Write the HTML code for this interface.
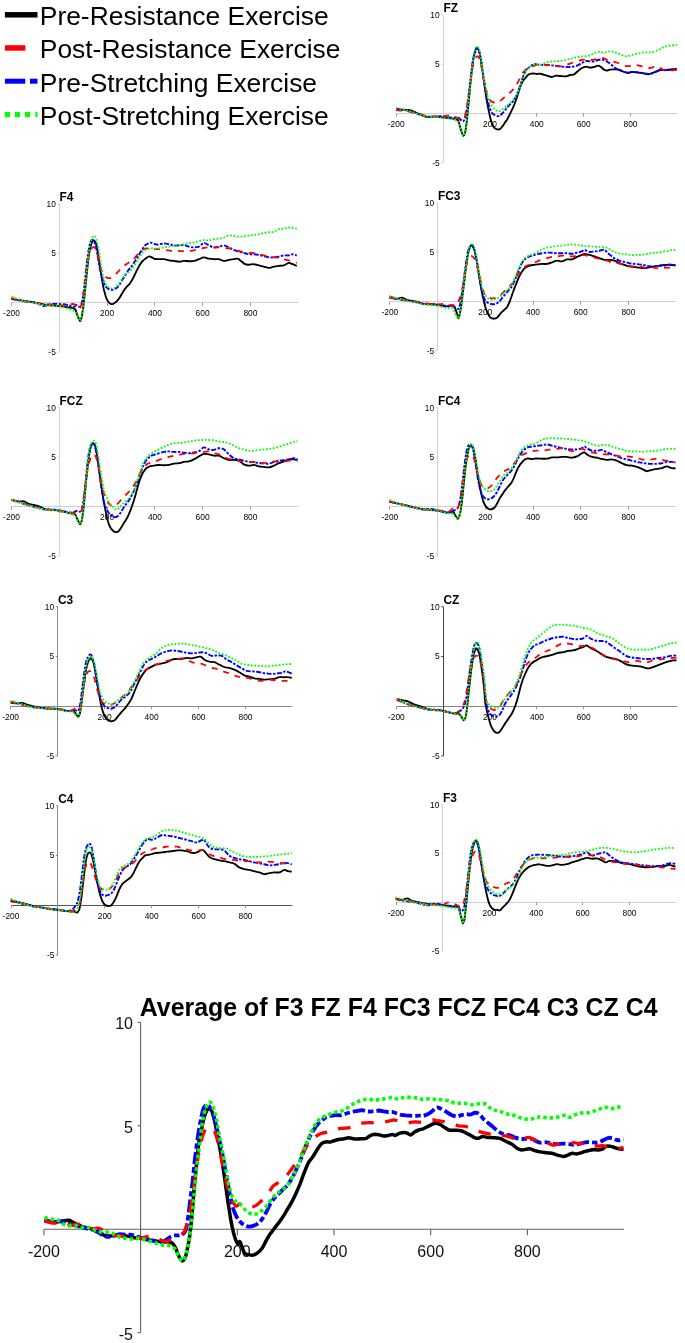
<!DOCTYPE html>
<html><head><meta charset="utf-8"><style>
html,body{margin:0;padding:0;background:#fff;}
body{width:685px;height:1343px;overflow:hidden;}
svg{display:block;will-change:transform;}
text{font-family:"Liberation Sans",sans-serif;fill:#000;}
.t7{font-size:8.4px;fill:#000;}
.t16{font-size:16px;fill:#111;}
.lb{font-size:11.9px;font-weight:bold;}
.leg{font-size:26.4px;}
.ttl{font-size:24.9px;font-weight:bold;}
</style></head><body>
<svg width="685" height="1343" viewBox="0 0 685 1343">
<rect width="685" height="1343" fill="#fff"/>
<rect x="4.9" y="12.05" width="32.6" height="5.5" fill="#000"/>
<text x="39.8" y="25.1" class="leg">Pre-Resistance Exercise</text>
<rect x="4.9" y="45.2" width="20.5" height="5.5" fill="#f00"/>
<text x="39.8" y="58.4" class="leg">Post-Resistance Exercise</text>
<rect x="4.9" y="78.7" width="20.4" height="5" fill="#00f"/><rect x="30" y="78.7" width="7.5" height="5" fill="#00f"/>
<text x="39.8" y="91.5" class="leg">Pre-Stretching Exercise</text>
<rect x="4.8" y="111.9" width="5.3" height="5.2" fill="#0f0"/><rect x="14.9" y="111.9" width="5.2" height="5.2" fill="#0f0"/><rect x="25" y="111.9" width="5.2" height="5.2" fill="#0f0"/><rect x="35.3" y="111.9" width="2.2" height="5.2" fill="#0f0"/>
<text x="39.8" y="124.6" class="leg">Post-Stretching Exercise</text>
<line x1="396.2" y1="113.5" x2="677.4" y2="113.5" stroke="#d0d0d0" stroke-width="1"/>
<line x1="443.5" y1="14.9" x2="443.5" y2="162.8" stroke="#d0d0d0" stroke-width="1"/>
<line x1="441.1" y1="14.9" x2="443.1" y2="14.9" stroke="#d0d0d0" stroke-width="1"/>
<text x="439.6" y="17.8" class="t7" text-anchor="end">10</text>
<line x1="441.1" y1="64.2" x2="443.1" y2="64.2" stroke="#d0d0d0" stroke-width="1"/>
<text x="439.6" y="67.1" class="t7" text-anchor="end">5</text>
<line x1="441.1" y1="162.8" x2="443.1" y2="162.8" stroke="#d0d0d0" stroke-width="1"/>
<text x="439.6" y="165.7" class="t7" text-anchor="end">-5</text>
<line x1="396.5" y1="113.5" x2="396.5" y2="116.5" stroke="#999" stroke-width="1"/>
<text x="396.2" y="127.1" class="t7" text-anchor="middle">-200</text>
<line x1="489.5" y1="113.5" x2="489.5" y2="116.5" stroke="#999" stroke-width="1"/>
<text x="490.0" y="127.1" class="t7" text-anchor="middle">200</text>
<line x1="536.5" y1="113.5" x2="536.5" y2="116.5" stroke="#999" stroke-width="1"/>
<text x="536.8" y="127.1" class="t7" text-anchor="middle">400</text>
<line x1="583.5" y1="113.5" x2="583.5" y2="116.5" stroke="#999" stroke-width="1"/>
<text x="583.7" y="127.1" class="t7" text-anchor="middle">600</text>
<line x1="630.5" y1="113.5" x2="630.5" y2="116.5" stroke="#999" stroke-width="1"/>
<text x="630.5" y="127.1" class="t7" text-anchor="middle">800</text>
<text x="443.4" y="12.0" class="lb">FZ</text>
<path d="M396.0 109.6C398.2 109.7 405.5 109.4 409.0 110.0C412.5 110.6 414.0 111.8 417.0 113.0C420.0 114.2 424.0 116.4 427.0 117.0C430.0 117.6 432.3 116.5 435.0 116.6C437.7 116.7 440.3 117.1 443.0 117.4C445.7 117.7 448.6 118.0 451.0 118.4C453.4 118.8 456.2 118.8 457.6 120.0C459.1 121.1 458.9 123.3 459.6 125.2C460.3 127.2 460.9 130.0 461.6 131.8C462.2 133.5 462.9 136.0 463.5 135.7C464.2 135.5 464.9 134.0 465.5 130.5C466.2 127.0 466.8 120.8 467.5 114.7C468.1 108.6 468.8 100.5 469.5 93.7C470.1 86.9 470.8 79.9 471.4 74.0C472.1 68.1 472.7 62.2 473.4 58.2C474.1 54.3 474.8 52.1 475.4 50.3C476.0 48.6 476.5 47.8 477.1 47.7C477.6 47.6 478.1 47.9 478.6 49.7C479.2 51.4 480.0 54.6 480.6 58.2C481.3 61.8 481.9 66.8 482.6 71.4C483.2 76.0 483.9 81.2 484.6 85.8C485.2 90.4 485.9 95.0 486.5 98.9C487.2 102.9 487.8 106.2 488.5 109.5C489.2 112.7 489.8 116.1 490.5 118.7C491.1 121.2 491.8 123.0 492.4 124.6C493.1 126.1 493.6 127.0 494.4 127.9C495.2 128.7 496.2 129.2 497.0 129.4C497.9 129.6 498.8 129.6 499.7 129.2C500.5 128.7 501.4 127.6 502.3 126.5C503.2 125.4 504.1 123.9 504.9 122.6C505.8 121.3 506.7 120.2 507.6 118.7C508.4 117.1 509.3 115.2 510.2 113.4C511.1 111.6 511.9 110.1 512.8 108.1C513.7 106.2 514.6 104.0 515.4 101.6C516.3 99.2 517.2 96.3 518.1 93.7C518.9 91.1 519.8 88.0 520.7 85.8C521.6 83.6 522.4 82.0 523.3 80.6C524.2 79.1 525.1 78.3 525.9 77.3C526.8 76.3 527.7 75.2 528.6 74.6C529.5 74.1 530.3 73.9 531.2 73.7C532.1 73.5 533.0 73.3 533.8 73.3C534.7 73.4 535.6 73.9 536.5 74.0C537.3 74.1 538.2 73.7 539.1 73.7C540.0 73.7 540.2 73.6 541.7 74.0C543.2 74.4 546.3 75.5 548.0 76.0C549.7 76.5 550.7 77.1 552.0 77.0C553.3 76.9 554.7 75.8 556.0 75.6C557.3 75.4 558.3 75.9 560.0 76.0C561.7 76.1 564.3 76.6 566.0 76.4C567.7 76.2 568.7 75.3 570.0 75.0C571.3 74.7 572.7 75.1 574.0 74.4C575.3 73.7 576.7 72.1 578.0 71.0C579.3 69.9 580.7 68.7 582.0 68.0C583.3 67.3 584.7 66.7 586.0 66.6C587.3 66.5 588.7 67.5 590.0 67.6C591.3 67.7 592.7 67.3 594.0 67.0C595.3 66.7 596.8 65.6 598.0 65.6C599.2 65.6 600.0 66.3 601.0 67.0C602.0 67.7 603.0 69.0 604.0 69.6C605.0 70.2 606.0 70.6 607.0 70.6C608.0 70.6 608.5 69.8 610.0 69.6C611.5 69.4 614.3 69.3 616.0 69.4C617.7 69.5 618.7 69.6 620.0 70.0C621.3 70.4 622.7 71.5 624.0 72.0C625.3 72.5 626.7 73.0 628.0 73.0C629.3 73.0 630.7 72.1 632.0 72.0C633.3 71.9 634.3 72.2 636.0 72.4C637.7 72.6 640.0 72.7 642.0 73.0C644.0 73.3 646.3 74.4 648.0 74.4C649.7 74.4 650.7 73.5 652.0 73.0C653.3 72.5 654.7 72.1 656.0 71.6C657.3 71.1 658.2 70.3 660.0 70.0C661.8 69.7 664.2 70.2 667.0 70.0C669.8 69.8 675.3 69.2 677.0 69.0" fill="none" stroke="#000" stroke-width="1.85"/>
<path d="M396.0 108.6C397.2 108.8 400.8 109.2 403.0 109.6C405.2 110.0 406.7 110.3 409.0 111.0C411.3 111.7 414.0 112.7 417.0 113.6C420.0 114.5 424.0 116.1 427.0 116.6C430.0 117.1 432.3 116.4 435.0 116.4C437.7 116.4 440.3 116.2 443.0 116.4C445.7 116.6 448.6 117.4 451.0 117.6C453.4 117.8 456.1 117.1 457.6 117.3C459.2 117.6 459.4 118.7 460.3 119.3C461.1 120.0 462.1 121.4 462.9 121.3C463.6 121.2 464.2 120.6 464.9 118.7C465.5 116.7 466.2 113.6 466.8 109.5C467.5 105.3 468.1 99.2 468.8 93.7C469.5 88.2 470.1 81.9 470.8 76.6C471.4 71.4 472.1 66.1 472.7 62.2C473.4 58.2 474.1 55.2 474.7 53.0C475.4 50.8 476.1 49.6 476.7 49.0C477.3 48.5 477.8 48.8 478.4 49.7C478.9 50.6 479.4 51.5 480.0 54.3C480.6 57.0 481.3 61.7 481.9 66.1C482.6 70.5 483.2 76.2 483.9 80.6C484.6 84.9 485.2 88.9 485.9 92.4C486.5 95.9 487.2 98.9 487.8 101.6C488.5 104.2 489.1 106.2 489.8 108.1C490.6 110.1 491.5 112.2 492.4 113.4C493.4 114.6 494.6 114.9 495.7 115.4C496.8 115.8 497.9 116.4 499.0 116.0C500.1 115.7 501.2 114.5 502.3 113.4C503.4 112.3 504.5 110.8 505.6 109.5C506.7 108.1 507.7 106.8 508.9 105.5C510.1 104.2 511.6 103.1 512.8 101.6C514.0 100.0 515.1 98.3 516.1 96.3C517.1 94.4 517.8 92.2 518.7 89.8C519.6 87.3 520.5 84.5 521.4 81.9C522.2 79.2 523.1 76.1 524.0 74.0C524.9 71.9 525.6 70.6 526.6 69.4C527.6 68.2 528.7 67.6 529.9 66.8C531.1 65.9 532.3 64.5 533.8 64.1C535.4 63.8 536.7 64.6 539.1 64.8C541.4 64.9 545.5 64.9 548.0 65.0C550.5 65.1 552.0 65.4 554.0 65.6C556.0 65.8 558.0 66.2 560.0 66.4C562.0 66.6 564.3 66.9 566.0 67.0C567.7 67.1 568.3 67.2 570.0 67.0C571.7 66.8 574.0 66.7 576.0 66.0C578.0 65.3 580.3 63.8 582.0 63.0C583.7 62.2 584.7 61.3 586.0 61.0C587.3 60.7 588.7 61.3 590.0 61.4C591.3 61.5 592.7 61.8 594.0 61.6C595.3 61.4 596.7 60.3 598.0 60.0C599.3 59.7 600.7 59.4 602.0 59.6C603.3 59.8 604.7 60.3 606.0 61.0C607.3 61.7 608.7 62.6 610.0 63.6C611.3 64.6 612.7 66.0 614.0 67.0C615.3 68.0 616.7 68.9 618.0 69.6C619.3 70.3 620.7 70.9 622.0 71.4C623.3 71.9 624.7 72.3 626.0 72.4C627.3 72.5 628.7 72.1 630.0 72.0C631.3 71.9 632.7 71.9 634.0 72.0C635.3 72.1 636.7 72.2 638.0 72.4C639.3 72.6 640.7 72.8 642.0 73.0C643.3 73.2 644.7 73.4 646.0 73.6C647.3 73.8 648.7 74.2 650.0 74.0C651.3 73.8 652.7 73.1 654.0 72.6C655.3 72.1 656.7 71.4 658.0 71.0C659.3 70.6 660.5 70.2 662.0 70.0C663.5 69.8 664.5 70.2 667.0 70.0C669.5 69.8 675.3 69.2 677.0 69.0" fill="none" stroke="#00f" stroke-width="1.9" stroke-dasharray="5 1.5 2.5 1.5"/>
<path d="M396.0 110.0C397.5 110.2 402.2 110.6 405.0 111.0C407.8 111.4 410.3 111.9 413.0 112.4C415.7 112.9 418.7 113.3 421.0 114.0C423.3 114.7 424.7 116.0 427.0 116.4C429.3 116.8 432.3 116.4 435.0 116.4C437.7 116.4 441.0 116.5 443.0 116.4C445.0 116.3 445.8 115.7 447.0 115.6C448.2 115.5 449.0 115.3 450.0 115.6C451.0 115.9 451.7 117.0 453.0 117.4C454.3 117.8 456.4 117.6 457.6 118.0C458.8 118.4 459.4 119.9 460.3 120.0C461.1 120.1 462.1 119.3 462.9 118.7C463.6 118.0 464.2 118.0 464.9 116.0C465.5 114.1 466.2 110.6 466.8 106.8C467.5 103.1 468.1 98.1 468.8 93.7C469.5 89.3 470.1 84.9 470.8 80.6C471.4 76.2 472.1 70.9 472.7 67.4C473.4 63.9 474.0 61.4 474.7 59.5C475.4 57.7 476.3 56.4 477.1 56.2C477.8 56.1 478.6 57.2 479.3 58.9C480.0 60.5 480.6 63.1 481.3 66.1C481.9 69.1 482.6 73.3 483.2 76.6C483.9 79.9 484.6 83.0 485.2 85.8C485.9 88.7 486.5 91.5 487.2 93.7C487.8 95.9 488.4 97.6 489.2 98.9C489.9 100.3 490.8 100.9 491.8 101.6C492.8 102.2 494.0 102.8 495.1 102.9C496.2 103.0 497.3 102.8 498.4 102.2C499.5 101.7 500.5 100.5 501.6 99.6C502.7 98.7 503.7 98.0 504.9 97.0C506.1 96.0 507.6 94.9 508.9 93.7C510.2 92.5 511.6 91.1 512.8 89.8C514.0 88.4 515.0 87.6 516.1 85.8C517.2 84.1 518.4 81.2 519.4 79.2C520.4 77.3 521.1 75.4 522.0 74.0C522.9 72.6 523.6 71.6 524.6 70.7C525.6 69.8 526.8 69.4 527.9 68.7C529.0 68.1 530.0 67.3 531.2 66.8C532.4 66.2 533.8 65.8 535.1 65.4C536.5 65.1 536.9 64.9 539.1 64.8C541.2 64.7 545.5 64.9 548.0 65.0C550.5 65.1 552.0 65.4 554.0 65.6C556.0 65.8 558.3 66.4 560.0 66.4C561.7 66.4 562.3 66.1 564.0 65.6C565.7 65.1 568.0 64.3 570.0 63.6C572.0 62.9 574.0 62.2 576.0 61.6C578.0 61.0 580.0 60.4 582.0 60.0C584.0 59.6 586.3 59.0 588.0 59.0C589.7 59.0 590.7 60.0 592.0 60.0C593.3 60.0 594.7 59.4 596.0 59.0C597.3 58.6 598.7 57.7 600.0 57.6C601.3 57.5 602.7 57.9 604.0 58.4C605.3 58.9 606.7 59.9 608.0 60.4C609.3 60.9 610.3 61.2 612.0 61.6C613.7 62.0 616.0 62.3 618.0 63.0C620.0 63.7 622.0 65.1 624.0 65.6C626.0 66.1 628.0 66.1 630.0 66.0C632.0 65.9 634.0 64.9 636.0 65.0C638.0 65.1 640.2 66.0 642.0 66.4C643.8 66.8 645.7 67.1 647.0 67.4C648.3 67.7 648.8 68.1 650.0 68.0C651.2 67.9 652.7 67.2 654.0 67.0C655.3 66.8 656.7 66.7 658.0 67.0C659.3 67.3 660.5 68.3 662.0 69.0C663.5 69.7 664.5 70.9 667.0 71.0C669.5 71.1 675.3 69.8 677.0 69.6" fill="none" stroke="#f00" stroke-width="1.8" stroke-dasharray="6 6"/>
<path d="M396.0 108.0C397.2 108.3 400.8 109.1 403.0 109.6C405.2 110.1 406.7 110.3 409.0 111.0C411.3 111.7 414.0 112.7 417.0 113.6C420.0 114.5 424.0 115.8 427.0 116.4C430.0 117.0 432.3 116.7 435.0 117.0C437.7 117.3 440.3 117.7 443.0 118.0C445.7 118.3 448.6 118.3 451.0 118.8C453.4 119.3 456.2 120.2 457.6 121.3C459.1 122.4 458.9 123.5 459.6 125.2C460.3 127.0 460.9 130.0 461.6 131.8C462.2 133.5 462.9 136.0 463.5 135.7C464.2 135.5 464.9 134.2 465.5 130.5C466.2 126.8 466.8 119.8 467.5 113.4C468.1 107.1 468.8 99.2 469.5 92.4C470.1 85.6 470.8 78.6 471.4 72.7C472.1 66.8 472.7 61.0 473.4 56.9C474.1 52.9 474.8 50.1 475.4 48.4C476.0 46.6 476.5 46.3 477.1 46.4C477.7 46.5 478.3 47.1 478.9 49.0C479.5 51.0 480.2 54.5 480.9 58.2C481.5 61.9 482.2 67.2 482.9 71.4C483.5 75.5 484.2 79.7 484.8 83.2C485.5 86.7 486.1 89.8 486.8 92.4C487.5 95.0 488.0 97.0 488.8 98.9C489.5 100.9 490.2 102.6 491.1 104.2C492.1 105.8 493.2 107.6 494.4 108.8C495.6 110.0 497.0 111.3 498.4 111.4C499.7 111.5 501.0 110.3 502.3 109.5C503.6 108.6 504.9 107.3 506.2 106.2C507.6 105.1 508.9 104.1 510.2 102.9C511.5 101.7 512.9 100.5 514.1 98.9C515.3 97.4 516.4 95.7 517.4 93.7C518.4 91.7 519.2 89.5 520.0 87.1C520.9 84.7 521.7 81.9 522.7 79.2C523.6 76.6 524.9 73.3 525.9 71.4C527.0 69.4 527.9 68.5 529.2 67.4C530.5 66.3 532.2 65.2 533.8 64.8C535.5 64.4 536.7 65.3 539.1 64.8C541.4 64.3 545.5 62.6 548.0 62.0C550.5 61.4 552.0 61.6 554.0 61.4C556.0 61.2 558.0 61.2 560.0 61.0C562.0 60.8 564.3 60.3 566.0 60.0C567.7 59.7 568.3 59.4 570.0 59.0C571.7 58.6 574.0 57.8 576.0 57.4C578.0 57.0 580.0 56.6 582.0 56.4C584.0 56.2 586.3 56.3 588.0 56.0C589.7 55.7 590.7 55.0 592.0 54.4C593.3 53.8 594.7 52.8 596.0 52.4C597.3 52.0 598.7 52.0 600.0 52.0C601.3 52.0 602.3 52.7 604.0 52.6C605.7 52.5 608.3 51.5 610.0 51.4C611.7 51.3 612.7 51.6 614.0 52.0C615.3 52.4 616.7 53.1 618.0 53.6C619.3 54.1 620.5 54.5 622.0 55.0C623.5 55.5 625.3 56.4 627.0 56.4C628.7 56.4 630.2 55.5 632.0 55.0C633.8 54.5 636.0 54.0 638.0 53.6C640.0 53.2 642.0 52.6 644.0 52.4C646.0 52.2 648.0 52.6 650.0 52.4C652.0 52.2 654.0 51.7 656.0 51.0C658.0 50.3 660.2 48.8 662.0 48.0C663.8 47.2 664.5 46.5 667.0 46.0C669.5 45.5 675.3 45.2 677.0 45.0" fill="none" stroke="#0f0" stroke-width="1.8" stroke-dasharray="1.8 1.7"/>
<line x1="11.5" y1="302.5" x2="298.2" y2="302.5" stroke="#d0d0d0" stroke-width="1"/>
<line x1="59.5" y1="204.0" x2="59.5" y2="352.2" stroke="#d0d0d0" stroke-width="1"/>
<line x1="57.3" y1="204.0" x2="59.3" y2="204.0" stroke="#d0d0d0" stroke-width="1"/>
<text x="55.8" y="206.9" class="t7" text-anchor="end">10</text>
<line x1="57.3" y1="253.4" x2="59.3" y2="253.4" stroke="#d0d0d0" stroke-width="1"/>
<text x="55.8" y="256.3" class="t7" text-anchor="end">5</text>
<line x1="57.3" y1="352.2" x2="59.3" y2="352.2" stroke="#d0d0d0" stroke-width="1"/>
<text x="55.8" y="355.1" class="t7" text-anchor="end">-5</text>
<line x1="11.5" y1="302.8" x2="11.5" y2="305.8" stroke="#999" stroke-width="1"/>
<text x="11.5" y="316.4" class="t7" text-anchor="middle">-200</text>
<line x1="107.5" y1="302.8" x2="107.5" y2="305.8" stroke="#999" stroke-width="1"/>
<text x="107.1" y="316.4" class="t7" text-anchor="middle">200</text>
<line x1="154.5" y1="302.8" x2="154.5" y2="305.8" stroke="#999" stroke-width="1"/>
<text x="154.9" y="316.4" class="t7" text-anchor="middle">400</text>
<line x1="202.5" y1="302.8" x2="202.5" y2="305.8" stroke="#999" stroke-width="1"/>
<text x="202.6" y="316.4" class="t7" text-anchor="middle">600</text>
<line x1="250.5" y1="302.8" x2="250.5" y2="305.8" stroke="#999" stroke-width="1"/>
<text x="250.4" y="316.4" class="t7" text-anchor="middle">800</text>
<text x="59.6" y="201.1" class="lb">F4</text>
<path d="M11.5 299.1C13.2 299.3 17.7 299.8 21.5 300.4C25.2 300.9 29.8 301.6 34.0 302.4C38.1 303.1 42.3 304.2 46.4 304.9C50.6 305.5 55.2 305.7 58.9 306.1C62.7 306.5 66.2 306.9 68.9 307.4C71.6 307.8 73.6 307.8 74.9 309.0C76.3 310.1 76.3 312.6 76.9 314.2C77.6 315.9 78.3 317.7 78.9 318.8C79.5 319.9 79.9 321.6 80.5 320.8C81.0 320.0 81.6 317.7 82.2 314.2C82.8 310.7 83.5 305.5 84.1 299.8C84.8 294.1 85.5 286.4 86.1 280.1C86.8 273.7 87.4 266.9 88.1 261.7C88.7 256.4 89.4 251.8 90.1 248.5C90.7 245.2 91.4 243.3 92.0 242.0C92.7 240.6 93.3 240.4 94.0 240.6C94.6 240.9 95.3 241.3 96.0 243.3C96.6 245.2 97.3 248.8 97.9 252.5C98.6 256.2 99.2 261.2 99.9 265.6C100.6 270.0 101.2 274.8 101.9 278.8C102.5 282.7 103.2 286.3 103.8 289.3C104.5 292.2 105.2 294.5 105.8 296.5C106.5 298.5 107.0 299.9 107.8 301.1C108.6 302.3 109.5 303.2 110.4 303.7C111.3 304.2 112.1 304.3 113.0 304.0C114.0 303.6 115.2 302.8 116.3 301.7C117.4 300.7 118.5 299.4 119.6 297.8C120.7 296.2 121.8 293.6 122.9 291.9C124.0 290.1 125.1 288.6 126.2 287.3C127.3 286.0 128.4 285.4 129.5 284.0C130.6 282.6 131.7 280.7 132.8 278.8C133.8 276.8 134.9 274.4 136.0 272.2C137.1 270.0 138.2 267.5 139.3 265.6C140.4 263.8 141.5 262.2 142.6 261.0C143.7 259.8 144.8 259.2 145.9 258.4C147.0 257.6 148.1 256.5 149.2 256.4C150.3 256.3 151.4 257.3 152.5 257.7C153.6 258.2 153.8 258.8 155.7 259.0C157.7 259.3 161.7 258.9 163.9 259.2C166.1 259.4 167.3 260.1 168.9 260.4C170.6 260.7 172.3 260.7 173.9 260.9C175.6 261.1 177.3 261.7 178.9 261.7C180.6 261.7 182.3 261.0 183.9 260.9C185.6 260.8 187.2 261.2 188.9 261.2C190.6 261.2 192.2 261.3 193.9 260.9C195.6 260.6 197.2 259.8 198.9 259.2C200.6 258.6 202.2 257.5 203.9 257.4C205.6 257.3 207.2 258.4 208.9 258.7C210.5 259.0 212.2 259.1 213.9 259.2C215.5 259.3 217.2 258.9 218.9 259.2C220.5 259.5 222.2 260.8 223.9 260.9C225.5 261.0 227.2 260.2 228.9 259.9C230.5 259.6 232.4 259.4 233.8 259.2C235.3 259.0 236.3 258.3 237.6 258.7C238.8 259.0 240.1 260.3 241.3 261.2C242.6 262.1 243.8 263.6 245.1 264.2C246.3 264.8 247.4 264.7 248.8 264.7C250.3 264.7 252.2 264.0 253.8 264.2C255.5 264.3 257.1 265.0 258.8 265.4C260.5 265.8 262.1 266.2 263.8 266.7C265.5 267.1 267.1 267.9 268.8 267.9C270.5 267.9 272.1 267.0 273.8 266.7C275.5 266.3 277.1 266.1 278.8 265.9C280.4 265.7 282.1 265.9 283.8 265.4C285.4 264.9 287.3 263.1 288.8 262.9C290.2 262.7 291.2 263.7 292.5 264.2C293.8 264.7 296.0 265.6 296.8 265.9" fill="none" stroke="#000" stroke-width="1.85"/>
<path d="M11.5 298.4C13.2 298.8 17.7 300.2 21.5 300.9C25.2 301.5 30.2 301.5 34.0 302.4C37.7 303.2 41.0 305.6 43.9 305.9C46.9 306.1 48.5 304.4 51.4 304.1C54.4 303.8 58.5 303.9 61.4 304.1C64.3 304.3 66.9 304.9 68.9 305.4C70.9 305.8 72.4 307.1 73.6 307.0C74.9 306.9 75.5 305.1 76.3 305.0C77.0 304.9 77.6 306.1 78.2 306.3C78.9 306.6 79.5 307.2 80.2 306.3C80.9 305.5 81.5 304.2 82.2 301.1C82.8 298.0 83.5 293.2 84.1 287.9C84.8 282.7 85.5 275.2 86.1 269.6C86.8 263.9 87.4 258.2 88.1 253.8C88.7 249.4 89.4 245.6 90.1 243.3C90.7 241.0 91.2 240.5 91.8 240.0C92.3 239.5 92.7 239.6 93.3 240.4C93.9 241.2 94.6 242.4 95.3 244.6C96.0 246.8 96.6 250.3 97.3 253.8C97.9 257.3 98.6 262.1 99.2 265.6C99.9 269.1 100.6 272.2 101.2 274.8C101.9 277.4 102.4 279.4 103.2 281.4C104.0 283.4 104.8 285.3 105.8 286.6C106.8 287.9 108.0 288.7 109.1 289.3C110.2 289.8 111.3 290.0 112.4 289.9C113.5 289.8 114.6 289.4 115.7 288.6C116.8 287.8 117.9 286.7 119.0 285.3C120.1 283.9 121.1 281.8 122.2 280.1C123.3 278.3 124.4 276.6 125.5 274.8C126.6 273.1 127.7 271.1 128.8 269.6C129.9 268.0 131.0 267.1 132.1 265.6C133.2 264.1 134.3 262.1 135.4 260.4C136.5 258.6 137.6 256.9 138.7 255.1C139.8 253.4 140.9 251.5 141.9 249.8C143.0 248.2 144.1 246.3 145.2 245.2C146.3 244.2 147.5 243.7 148.5 243.3C149.5 242.8 150.2 242.5 151.1 242.6C152.1 242.7 153.3 243.6 154.4 243.9C155.5 244.3 156.1 244.7 157.7 244.6C159.3 244.5 162.1 243.5 163.9 243.4C165.8 243.4 167.3 243.9 168.9 244.2C170.6 244.5 172.3 245.2 173.9 245.4C175.6 245.7 177.3 245.5 178.9 245.4C180.6 245.4 182.3 244.7 183.9 244.9C185.6 245.2 187.2 246.3 188.9 246.7C190.6 247.1 192.2 247.4 193.9 247.4C195.6 247.4 197.2 247.4 198.9 246.7C200.6 245.9 202.2 243.2 203.9 242.9C205.6 242.7 207.2 244.7 208.9 245.4C210.5 246.2 212.2 247.2 213.9 247.4C215.5 247.7 217.2 247.0 218.9 246.7C220.5 246.4 222.2 245.3 223.9 245.4C225.5 245.6 227.2 246.7 228.9 247.4C230.5 248.2 232.2 249.2 233.8 249.9C235.5 250.6 237.2 251.2 238.8 251.7C240.5 252.2 242.2 252.5 243.8 252.9C245.5 253.4 247.2 254.0 248.8 254.2C250.5 254.4 252.2 254.1 253.8 254.2C255.5 254.3 257.1 254.6 258.8 254.9C260.5 255.3 262.1 255.8 263.8 256.2C265.5 256.6 267.1 257.0 268.8 257.2C270.5 257.4 272.1 257.5 273.8 257.4C275.5 257.3 277.1 257.0 278.8 256.7C280.4 256.3 282.1 255.6 283.8 255.4C285.4 255.2 287.3 255.6 288.8 255.4C290.2 255.2 291.2 254.2 292.5 254.2C293.8 254.2 296.0 255.2 296.8 255.4" fill="none" stroke="#00f" stroke-width="1.9" stroke-dasharray="5 1.5 2.5 1.5"/>
<path d="M11.5 297.9C13.2 298.4 17.7 300.0 21.5 300.9C25.2 301.7 29.8 302.3 34.0 302.9C38.1 303.4 42.3 303.7 46.4 304.1C50.6 304.5 55.6 305.2 58.9 305.4C62.3 305.5 64.3 305.1 66.4 304.9C68.5 304.7 70.0 304.2 71.4 304.1C72.8 304.0 74.0 303.8 74.9 304.4C75.9 305.0 76.3 306.9 76.9 307.7C77.6 308.4 78.2 309.2 78.9 309.0C79.5 308.8 80.2 308.1 80.9 306.3C81.5 304.6 82.2 302.4 82.8 298.5C83.5 294.5 84.1 287.9 84.8 282.7C85.5 277.4 86.1 271.5 86.8 266.9C87.4 262.3 88.1 257.9 88.7 255.1C89.4 252.3 90.0 251.2 90.7 249.8C91.4 248.5 92.3 247.4 93.1 247.2C93.8 247.0 94.6 247.4 95.3 248.5C96.0 249.6 96.6 251.6 97.3 253.8C97.9 256.0 98.6 259.0 99.2 261.7C99.9 264.3 100.5 267.4 101.2 269.6C102.0 271.7 103.0 273.5 103.8 274.8C104.7 276.1 105.5 276.9 106.5 277.4C107.5 278.0 108.7 278.3 109.8 278.1C110.9 277.9 111.9 276.9 113.0 276.1C114.1 275.4 115.2 274.5 116.3 273.5C117.4 272.5 118.5 271.3 119.6 270.2C120.7 269.1 121.8 267.9 122.9 266.9C124.0 265.9 125.1 265.1 126.2 264.3C127.3 263.5 128.4 263.0 129.5 262.3C130.6 261.7 131.7 261.3 132.8 260.4C133.8 259.4 134.9 257.7 136.0 256.4C137.1 255.1 138.2 253.6 139.3 252.5C140.4 251.4 141.5 250.5 142.6 249.8C143.7 249.2 144.7 248.8 145.9 248.5C147.1 248.3 148.5 248.4 149.8 248.5C151.1 248.6 152.5 249.1 153.8 249.2C155.1 249.3 156.0 249.1 157.7 249.2C159.4 249.3 162.1 249.7 163.9 249.9C165.8 250.1 167.3 250.3 168.9 250.4C170.6 250.6 172.3 250.9 173.9 250.9C175.6 251.0 177.3 250.9 178.9 250.9C180.6 251.0 182.3 251.2 183.9 251.2C185.6 251.2 187.2 251.1 188.9 250.9C190.6 250.8 192.2 250.7 193.9 250.4C195.6 250.1 197.2 249.6 198.9 249.2C200.6 248.8 202.2 248.3 203.9 247.9C205.6 247.6 207.2 247.3 208.9 247.2C210.5 247.1 212.2 247.4 213.9 247.4C215.5 247.5 217.2 247.4 218.9 247.4C220.5 247.5 222.2 247.8 223.9 247.9C225.5 248.1 227.2 248.2 228.9 248.4C230.5 248.6 232.2 248.8 233.8 249.2C235.5 249.6 237.2 250.4 238.8 250.9C240.5 251.5 242.2 252.1 243.8 252.4C245.5 252.8 247.2 252.9 248.8 252.9C250.5 253.0 252.2 252.7 253.8 252.9C255.5 253.1 257.1 253.8 258.8 254.2C260.5 254.6 262.1 255.0 263.8 255.4C265.5 255.8 267.1 256.4 268.8 256.7C270.5 257.0 272.1 257.0 273.8 257.2C275.5 257.4 277.1 257.6 278.8 257.9C280.4 258.3 282.1 258.8 283.8 259.2C285.4 259.6 287.1 260.0 288.8 260.4C290.4 260.8 292.4 261.3 293.8 261.7C295.1 262.1 296.3 262.7 296.8 262.9" fill="none" stroke="#f00" stroke-width="1.8" stroke-dasharray="6 6"/>
<path d="M11.5 296.6C13.2 297.2 17.7 299.3 21.5 300.4C25.2 301.4 29.8 302.0 34.0 302.9C38.1 303.7 42.3 304.9 46.4 305.4C50.6 305.9 55.2 305.2 58.9 305.9C62.7 306.5 66.2 308.1 68.9 309.1C71.6 310.1 73.6 310.5 74.9 311.6C76.3 312.7 76.3 314.2 76.9 315.5C77.6 316.9 78.3 318.6 78.9 319.5C79.5 320.4 79.9 321.7 80.5 320.8C81.0 319.9 81.6 317.7 82.2 314.2C82.8 310.7 83.5 305.7 84.1 299.8C84.8 293.9 85.5 285.5 86.1 278.8C86.8 272.0 87.4 264.7 88.1 259.0C88.7 253.4 89.4 248.1 90.1 244.6C90.7 241.1 91.4 239.5 92.0 238.0C92.7 236.6 93.3 235.8 94.0 235.8C94.6 235.8 95.3 236.3 96.0 238.0C96.6 239.7 97.3 242.6 97.9 245.9C98.6 249.2 99.2 253.8 99.9 257.7C100.6 261.7 101.2 266.1 101.9 269.6C102.5 273.1 103.1 276.1 103.8 278.8C104.6 281.4 105.5 283.8 106.5 285.3C107.5 286.9 108.7 287.4 109.8 287.9C110.9 288.5 111.9 288.8 113.0 288.6C114.1 288.4 115.2 287.6 116.3 286.6C117.4 285.6 118.5 284.2 119.6 282.7C120.7 281.2 121.8 279.0 122.9 277.4C124.0 275.9 125.1 274.5 126.2 273.5C127.3 272.5 128.4 272.4 129.5 271.5C130.6 270.6 131.7 269.7 132.8 268.2C133.8 266.8 134.9 264.7 136.0 263.0C137.1 261.2 138.2 259.5 139.3 257.7C140.4 256.0 141.5 253.8 142.6 252.5C143.7 251.2 144.7 250.5 145.9 249.8C147.1 249.2 148.5 248.8 149.8 248.5C151.1 248.3 152.5 248.5 153.8 248.5C155.1 248.5 156.0 248.7 157.7 248.5C159.4 248.4 162.1 247.7 163.9 247.4C165.8 247.1 167.3 246.9 168.9 246.7C170.6 246.4 172.3 246.2 173.9 245.9C175.6 245.7 177.3 245.7 178.9 245.4C180.6 245.2 182.3 244.6 183.9 244.2C185.6 243.8 187.2 243.2 188.9 242.9C190.6 242.7 192.2 242.7 193.9 242.4C195.6 242.2 197.2 241.6 198.9 241.2C200.6 240.8 202.2 240.1 203.9 240.0C205.6 239.8 207.2 240.6 208.9 240.5C210.5 240.3 212.2 239.5 213.9 239.2C215.5 238.9 217.2 239.0 218.9 238.7C220.5 238.4 222.2 238.0 223.9 237.5C225.5 236.9 227.2 235.7 228.9 235.5C230.5 235.2 232.2 235.8 233.8 236.0C235.5 236.2 237.2 236.7 238.8 236.7C240.5 236.7 242.2 236.4 243.8 236.2C245.5 236.0 247.2 235.7 248.8 235.5C250.5 235.3 252.2 235.2 253.8 235.0C255.5 234.8 257.1 234.5 258.8 234.2C260.5 233.9 262.1 233.3 263.8 233.0C265.5 232.6 267.1 232.4 268.8 232.2C270.5 232.0 272.1 232.2 273.8 231.7C275.5 231.2 277.1 229.7 278.8 229.2C280.4 228.7 282.1 229.0 283.8 228.7C285.4 228.4 287.3 227.6 288.8 227.5C290.2 227.3 291.2 227.8 292.5 228.0C293.8 228.2 296.0 228.6 296.8 228.7" fill="none" stroke="#0f0" stroke-width="1.8" stroke-dasharray="1.8 1.7"/>
<line x1="389.9" y1="301.5" x2="676.1" y2="301.5" stroke="#d0d0d0" stroke-width="1"/>
<line x1="437.5" y1="202.8" x2="437.5" y2="351.0" stroke="#d0d0d0" stroke-width="1"/>
<line x1="435.6" y1="202.8" x2="437.6" y2="202.8" stroke="#d0d0d0" stroke-width="1"/>
<text x="434.1" y="205.7" class="t7" text-anchor="end">10</text>
<line x1="435.6" y1="252.2" x2="437.6" y2="252.2" stroke="#d0d0d0" stroke-width="1"/>
<text x="434.1" y="255.1" class="t7" text-anchor="end">5</text>
<line x1="435.6" y1="351.0" x2="437.6" y2="351.0" stroke="#d0d0d0" stroke-width="1"/>
<text x="434.1" y="353.9" class="t7" text-anchor="end">-5</text>
<line x1="389.5" y1="301.6" x2="389.5" y2="304.6" stroke="#999" stroke-width="1"/>
<text x="389.9" y="315.2" class="t7" text-anchor="middle">-200</text>
<line x1="485.5" y1="301.6" x2="485.5" y2="304.6" stroke="#999" stroke-width="1"/>
<text x="485.3" y="315.2" class="t7" text-anchor="middle">200</text>
<line x1="533.5" y1="301.6" x2="533.5" y2="304.6" stroke="#999" stroke-width="1"/>
<text x="533.0" y="315.2" class="t7" text-anchor="middle">400</text>
<line x1="580.5" y1="301.6" x2="580.5" y2="304.6" stroke="#999" stroke-width="1"/>
<text x="580.7" y="315.2" class="t7" text-anchor="middle">600</text>
<line x1="628.5" y1="301.6" x2="628.5" y2="304.6" stroke="#999" stroke-width="1"/>
<text x="628.4" y="315.2" class="t7" text-anchor="middle">800</text>
<text x="437.9" y="199.9" class="lb">FC3</text>
<path d="M389.5 297.4C390.7 297.6 394.9 298.8 397.0 298.9C399.1 298.9 400.3 297.5 402.0 297.6C403.6 297.8 404.5 299.2 407.0 299.9C409.5 300.6 414.0 301.2 417.0 301.9C419.9 302.5 421.1 303.4 424.4 303.9C427.8 304.4 433.2 304.4 436.9 304.9C440.7 305.3 444.3 306.2 446.9 306.4C449.5 306.5 451.2 305.1 452.6 305.5C454.0 306.0 454.5 307.4 455.3 308.8C456.0 310.3 456.7 312.6 457.2 314.1C457.8 315.6 458.0 318.7 458.5 318.0C459.1 317.4 459.9 313.9 460.5 310.1C461.2 306.4 461.8 300.7 462.5 295.7C463.1 290.7 463.8 285.2 464.5 279.9C465.1 274.7 465.8 268.8 466.4 264.2C467.1 259.6 467.7 255.3 468.4 252.3C469.1 249.4 469.8 247.6 470.4 246.4C470.9 245.2 471.1 244.9 471.7 245.1C472.2 245.3 473.0 246.1 473.6 247.7C474.3 249.4 475.0 252.0 475.6 255.0C476.3 257.9 476.9 261.5 477.6 265.5C478.2 269.4 478.9 274.5 479.6 278.6C480.2 282.8 480.9 286.9 481.5 290.4C482.2 293.9 482.8 296.8 483.5 299.6C484.2 302.5 484.7 305.1 485.5 307.5C486.2 309.9 487.2 312.4 488.1 314.1C489.0 315.8 489.7 317.0 490.7 317.8C491.7 318.5 492.9 318.8 494.0 318.7C495.1 318.6 496.2 318.2 497.3 317.4C498.4 316.5 499.5 314.6 500.6 313.4C501.7 312.2 502.8 311.2 503.9 310.1C505.0 309.1 506.1 308.6 507.2 306.9C508.2 305.1 509.5 302.2 510.4 299.6C511.4 297.1 512.2 294.2 513.1 291.8C513.9 289.3 514.8 287.4 515.7 285.2C516.6 283.0 517.4 280.6 518.3 278.6C519.2 276.6 520.1 274.9 520.9 273.4C521.8 271.8 522.6 270.5 523.6 269.4C524.6 268.3 525.8 267.4 526.9 266.8C528.0 266.1 528.9 265.8 530.1 265.5C531.4 265.1 532.1 265.1 534.1 264.8C536.1 264.6 539.8 264.1 541.9 263.9C544.1 263.8 545.3 264.2 546.9 263.9C548.6 263.7 550.3 263.0 551.9 262.4C553.6 261.9 555.3 260.8 556.9 260.7C558.6 260.5 560.3 261.6 561.9 261.4C563.6 261.2 565.2 259.8 566.9 259.4C568.6 259.1 570.2 259.8 571.9 259.4C573.6 259.0 575.2 257.7 576.9 256.9C578.6 256.2 580.6 255.4 581.9 254.9C583.1 254.4 583.1 253.9 584.4 253.9C585.6 253.9 587.7 254.5 589.4 254.9C591.0 255.3 592.7 255.9 594.4 256.4C596.0 257.0 597.7 257.6 599.4 258.2C601.0 258.8 602.7 259.6 604.4 259.9C606.0 260.2 607.7 259.8 609.4 259.9C611.0 260.0 612.7 260.1 614.3 260.7C616.0 261.2 617.7 262.5 619.3 263.2C621.0 263.9 622.7 264.4 624.3 264.9C626.0 265.5 627.7 266.1 629.3 266.4C631.0 266.7 632.6 266.7 634.3 266.9C636.0 267.1 637.6 267.5 639.3 267.7C641.0 267.9 642.6 268.2 644.3 268.2C646.0 268.1 647.6 267.7 649.3 267.4C651.0 267.1 652.6 266.7 654.3 266.4C655.9 266.1 657.6 265.9 659.3 265.7C660.9 265.4 662.6 265.0 664.3 264.9C665.9 264.8 667.4 264.9 669.3 264.9C671.1 265.0 674.5 265.1 675.5 265.2" fill="none" stroke="#000" stroke-width="1.85"/>
<path d="M389.5 296.4C391.2 296.9 395.7 298.5 399.5 299.4C403.2 300.2 407.8 300.6 412.0 301.4C416.1 302.1 420.3 303.4 424.4 303.9C428.6 304.4 433.6 304.1 436.9 304.4C440.3 304.6 441.9 305.4 444.4 305.6C446.9 305.8 450.5 305.6 451.9 305.6C453.3 305.6 452.1 305.2 452.6 305.5C453.2 305.9 454.5 307.0 455.3 307.5C456.0 308.1 456.6 308.8 457.2 308.8C457.9 308.8 458.5 309.3 459.2 307.5C459.9 305.8 460.5 302.0 461.2 298.3C461.8 294.6 462.5 290.0 463.1 285.2C463.8 280.4 464.5 274.2 465.1 269.4C465.8 264.6 466.4 259.8 467.1 256.3C467.7 252.8 468.4 250.1 469.1 248.4C469.7 246.6 470.5 246.2 471.0 245.8C471.6 245.3 471.8 245.1 472.3 245.8C472.9 246.4 473.6 247.5 474.3 249.7C475.0 251.9 475.6 255.4 476.3 258.9C476.9 262.4 477.6 266.8 478.2 270.7C478.9 274.7 479.6 279.1 480.2 282.6C480.9 286.1 481.5 289.1 482.2 291.8C482.8 294.4 483.4 296.6 484.2 298.3C484.9 300.0 485.7 301.1 486.8 302.0C487.9 302.9 489.4 303.5 490.7 303.8C492.0 304.2 493.4 304.5 494.7 304.2C496.0 304.0 497.4 303.2 498.6 302.3C499.8 301.3 500.8 299.6 501.9 298.3C503.0 297.0 504.1 295.7 505.2 294.4C506.3 293.1 507.4 291.8 508.5 290.4C509.6 289.1 510.8 288.0 511.8 286.5C512.7 285.0 513.5 283.2 514.4 281.2C515.3 279.3 516.1 276.9 517.0 274.7C517.9 272.5 518.6 270.3 519.6 268.1C520.6 265.9 521.8 263.2 522.9 261.5C524.0 259.9 525.0 259.1 526.2 258.2C527.4 257.4 528.8 256.8 530.1 256.3C531.5 255.7 532.1 255.5 534.1 255.0C536.1 254.4 539.8 253.6 541.9 253.2C544.1 252.8 545.3 252.8 546.9 252.7C548.6 252.6 550.3 252.6 551.9 252.7C553.6 252.8 555.3 253.1 556.9 253.2C558.6 253.3 560.3 253.2 561.9 253.2C563.6 253.2 565.2 253.1 566.9 253.2C568.6 253.3 570.2 253.8 571.9 253.7C573.6 253.6 575.2 253.1 576.9 252.7C578.6 252.3 580.6 251.9 581.9 251.4C583.1 251.0 583.1 249.9 584.4 249.9C585.6 250.0 587.7 251.7 589.4 251.9C591.0 252.2 592.7 251.6 594.4 251.4C596.0 251.2 597.7 250.9 599.4 250.7C601.0 250.4 602.7 249.3 604.4 249.9C606.0 250.6 607.7 253.1 609.4 254.4C611.0 255.8 612.7 257.1 614.3 258.2C616.0 259.2 617.7 260.0 619.3 260.7C621.0 261.3 622.7 261.5 624.3 261.9C626.0 262.3 627.7 262.8 629.3 263.2C631.0 263.5 632.6 263.7 634.3 263.9C636.0 264.1 637.6 264.2 639.3 264.4C641.0 264.6 642.6 264.9 644.3 265.2C646.0 265.5 647.6 266.0 649.3 266.2C651.0 266.4 652.6 266.5 654.3 266.4C655.9 266.3 657.6 265.8 659.3 265.7C660.9 265.5 662.6 265.9 664.3 265.7C665.9 265.5 667.4 264.4 669.3 264.4C671.1 264.4 674.5 265.5 675.5 265.7" fill="none" stroke="#00f" stroke-width="1.9" stroke-dasharray="5 1.5 2.5 1.5"/>
<path d="M389.5 298.1C391.2 298.3 395.7 298.8 399.5 299.4C403.2 299.9 407.8 300.7 412.0 301.4C416.1 302.0 420.3 302.6 424.4 303.1C428.6 303.6 433.6 304.2 436.9 304.4C440.3 304.5 442.3 303.7 444.4 303.9C446.5 304.0 448.0 304.9 449.4 305.1C450.8 305.3 451.7 304.7 452.6 304.9C453.6 305.1 454.5 306.4 455.3 306.2C456.0 306.0 456.6 304.7 457.2 303.6C457.9 302.5 458.4 301.6 459.2 299.6C460.0 297.7 461.1 295.0 461.8 291.8C462.6 288.5 463.1 283.9 463.8 279.9C464.5 276.0 465.1 271.4 465.8 268.1C466.4 264.8 467.1 262.1 467.7 260.2C468.4 258.4 468.9 257.6 469.7 256.9C470.5 256.3 471.6 256.1 472.3 256.3C473.1 256.5 473.6 257.0 474.3 258.2C475.0 259.5 475.6 261.4 476.3 263.5C476.9 265.6 477.6 268.2 478.2 270.7C478.9 273.2 479.6 276.0 480.2 278.6C480.9 281.2 481.5 284.1 482.2 286.5C482.8 288.9 483.4 291.4 484.2 293.1C484.9 294.7 485.9 295.6 486.8 296.4C487.7 297.1 488.3 297.3 489.4 297.7C490.5 298.0 492.0 298.4 493.4 298.3C494.7 298.2 496.0 297.7 497.3 297.0C498.6 296.4 499.9 295.5 501.2 294.4C502.6 293.3 503.9 291.8 505.2 290.4C506.5 289.1 507.8 287.8 509.1 286.5C510.4 285.2 511.8 284.3 513.1 282.6C514.4 280.8 515.7 278.0 517.0 276.0C518.3 274.0 519.6 272.3 520.9 270.7C522.3 269.2 523.6 267.8 524.9 266.8C526.2 265.8 527.5 265.4 528.8 264.8C530.1 264.3 531.5 264.1 532.8 263.5C534.1 263.0 535.2 262.2 536.7 261.5C538.2 260.9 540.2 260.0 541.9 259.4C543.7 258.9 545.3 258.6 546.9 258.2C548.6 257.8 550.3 257.2 551.9 256.9C553.6 256.6 555.3 256.6 556.9 256.4C558.6 256.2 560.3 255.8 561.9 255.7C563.6 255.6 565.2 255.6 566.9 255.7C568.6 255.8 570.2 256.4 571.9 256.4C573.6 256.4 575.2 255.9 576.9 255.7C578.6 255.4 580.2 254.9 581.9 254.9C583.6 254.9 585.2 255.3 586.9 255.7C588.5 256.0 590.2 256.5 591.9 256.9C593.5 257.3 595.2 257.8 596.9 258.2C598.5 258.6 600.2 259.0 601.9 259.4C603.5 259.8 605.2 260.2 606.9 260.7C608.5 261.2 610.2 262.0 611.8 262.4C613.5 262.8 615.2 262.9 616.8 263.2C618.5 263.4 620.2 263.5 621.8 263.9C623.5 264.3 625.2 265.2 626.8 265.7C628.5 266.1 630.2 266.2 631.8 266.4C633.5 266.6 635.1 266.8 636.8 266.9C638.5 267.0 640.1 266.7 641.8 266.9C643.5 267.1 645.1 268.1 646.8 268.2C648.5 268.2 650.1 267.4 651.8 267.4C653.5 267.4 655.1 268.0 656.8 268.2C658.4 268.3 660.1 268.2 661.8 268.2C663.4 268.1 665.1 267.7 666.8 267.7C668.4 267.7 670.3 268.1 671.8 268.2C673.2 268.2 674.9 268.2 675.5 268.2" fill="none" stroke="#f00" stroke-width="1.8" stroke-dasharray="6 6"/>
<path d="M389.5 296.4C391.2 296.8 395.7 298.0 399.5 298.9C403.2 299.8 407.8 300.9 412.0 301.9C416.1 302.8 420.3 303.7 424.4 304.4C428.6 305.0 433.2 305.0 436.9 305.6C440.7 306.2 444.3 307.7 446.9 308.1C449.5 308.5 451.2 307.2 452.6 308.2C454.0 309.2 454.5 312.6 455.3 314.1C456.0 315.6 456.7 316.7 457.2 317.4C457.8 318.0 458.0 319.2 458.5 318.0C459.1 316.8 459.9 313.9 460.5 310.1C461.2 306.4 461.8 300.7 462.5 295.7C463.1 290.7 463.8 285.2 464.5 279.9C465.1 274.7 465.8 268.8 466.4 264.2C467.1 259.6 467.7 255.5 468.4 252.3C469.1 249.2 469.7 246.5 470.4 245.1C471.0 243.7 471.7 243.5 472.3 243.8C473.0 244.1 473.6 245.0 474.3 247.1C475.0 249.2 475.6 252.8 476.3 256.3C476.9 259.8 477.6 264.4 478.2 268.1C478.9 271.8 479.6 275.3 480.2 278.6C480.9 281.9 481.5 285.4 482.2 287.8C482.8 290.2 483.4 291.5 484.2 293.1C484.9 294.6 485.9 296.0 486.8 297.0C487.7 298.0 488.3 298.5 489.4 299.0C490.5 299.4 492.0 299.7 493.4 299.6C494.7 299.5 496.0 299.0 497.3 298.3C498.6 297.7 499.9 296.8 501.2 295.7C502.6 294.6 503.9 293.1 505.2 291.8C506.5 290.4 507.9 289.3 509.1 287.8C510.3 286.3 511.3 284.5 512.4 282.6C513.5 280.6 514.7 278.2 515.7 276.0C516.7 273.8 517.3 271.7 518.3 269.4C519.3 267.1 520.5 264.1 521.6 262.2C522.7 260.3 523.7 259.3 524.9 258.2C526.1 257.2 527.3 256.4 528.8 255.6C530.4 254.9 531.9 254.7 534.1 253.6C536.3 252.6 539.8 250.4 541.9 249.4C544.1 248.4 545.3 248.1 546.9 247.7C548.6 247.3 550.3 247.2 551.9 246.9C553.6 246.7 555.3 246.4 556.9 246.2C558.6 246.0 560.3 245.9 561.9 245.7C563.6 245.5 565.2 245.2 566.9 244.9C568.6 244.7 570.2 244.4 571.9 244.4C573.6 244.4 575.2 244.7 576.9 244.9C578.6 245.2 580.2 245.5 581.9 245.7C583.6 245.9 585.2 246.1 586.9 246.2C588.5 246.3 590.2 246.3 591.9 246.4C593.5 246.6 595.2 246.9 596.9 246.9C598.5 247.0 600.2 246.8 601.9 246.9C603.5 247.1 605.2 247.1 606.9 247.7C608.5 248.3 610.2 249.9 611.8 250.7C613.5 251.5 615.2 252.2 616.8 252.7C618.5 253.2 620.2 253.4 621.8 253.7C623.5 254.0 625.2 254.2 626.8 254.4C628.5 254.7 630.2 255.1 631.8 255.2C633.5 255.3 635.1 255.0 636.8 254.9C638.5 254.9 640.1 255.1 641.8 254.9C643.5 254.8 645.1 254.2 646.8 253.9C648.5 253.6 650.1 253.4 651.8 253.2C653.5 253.0 655.1 252.9 656.8 252.7C658.4 252.5 660.1 252.2 661.8 251.9C663.4 251.7 665.1 251.5 666.8 251.2C668.4 250.9 670.3 250.1 671.8 249.9C673.2 249.8 674.9 250.1 675.5 250.2" fill="none" stroke="#0f0" stroke-width="1.8" stroke-dasharray="1.8 1.7"/>
<line x1="11.5" y1="506.5" x2="298.2" y2="506.5" stroke="#d0d0d0" stroke-width="1"/>
<line x1="59.5" y1="407.8" x2="59.5" y2="556.3" stroke="#d0d0d0" stroke-width="1"/>
<line x1="57.3" y1="407.8" x2="59.3" y2="407.8" stroke="#d0d0d0" stroke-width="1"/>
<text x="55.8" y="410.7" class="t7" text-anchor="end">10</text>
<line x1="57.3" y1="457.3" x2="59.3" y2="457.3" stroke="#d0d0d0" stroke-width="1"/>
<text x="55.8" y="460.2" class="t7" text-anchor="end">5</text>
<line x1="57.3" y1="556.3" x2="59.3" y2="556.3" stroke="#d0d0d0" stroke-width="1"/>
<text x="55.8" y="559.2" class="t7" text-anchor="end">-5</text>
<line x1="11.5" y1="506.8" x2="11.5" y2="509.8" stroke="#999" stroke-width="1"/>
<text x="11.5" y="520.4" class="t7" text-anchor="middle">-200</text>
<line x1="107.5" y1="506.8" x2="107.5" y2="509.8" stroke="#999" stroke-width="1"/>
<text x="107.1" y="520.4" class="t7" text-anchor="middle">200</text>
<line x1="154.5" y1="506.8" x2="154.5" y2="509.8" stroke="#999" stroke-width="1"/>
<text x="154.9" y="520.4" class="t7" text-anchor="middle">400</text>
<line x1="202.5" y1="506.8" x2="202.5" y2="509.8" stroke="#999" stroke-width="1"/>
<text x="202.6" y="520.4" class="t7" text-anchor="middle">600</text>
<line x1="250.5" y1="506.8" x2="250.5" y2="509.8" stroke="#999" stroke-width="1"/>
<text x="250.4" y="520.4" class="t7" text-anchor="middle">800</text>
<text x="59.6" y="404.9" class="lb">FCZ</text>
<path d="M11.5 499.9C12.7 500.1 16.9 501.1 19.0 501.4C21.1 501.6 22.3 501.0 24.0 501.4C25.6 501.8 26.5 503.0 29.0 503.9C31.5 504.7 36.0 505.4 39.0 506.4C41.9 507.3 43.1 508.7 46.4 509.4C49.8 510.1 55.2 510.0 58.9 510.6C62.7 511.2 66.2 512.5 68.9 513.1C71.6 513.7 73.6 513.4 74.9 514.3C76.3 515.1 76.3 516.9 76.9 518.2C77.6 519.5 78.3 521.2 78.9 522.2C79.5 523.2 79.9 524.8 80.5 524.1C81.0 523.5 81.6 521.8 82.2 518.2C82.8 514.6 83.5 508.6 84.1 502.5C84.8 496.3 85.5 488.0 86.1 481.4C86.8 474.9 87.4 468.3 88.1 463.0C88.7 457.8 89.4 453.1 90.1 449.9C90.7 446.7 91.4 445.1 92.0 444.0C92.6 442.9 93.1 442.9 93.6 443.3C94.1 443.8 94.7 444.4 95.3 446.6C95.9 448.8 96.6 452.4 97.3 456.5C97.9 460.5 98.6 466.1 99.2 470.9C99.9 475.7 100.6 480.8 101.2 485.4C101.9 490.0 102.5 494.6 103.2 498.5C103.8 502.5 104.5 505.7 105.2 509.0C105.8 512.3 106.5 515.6 107.1 518.2C107.8 520.9 108.3 522.9 109.1 524.8C109.9 526.7 110.7 528.2 111.7 529.4C112.7 530.6 113.9 531.7 115.0 532.0C116.1 532.4 117.3 532.0 118.3 531.4C119.3 530.7 120.1 529.4 120.9 528.1C121.8 526.8 122.7 524.9 123.6 523.5C124.4 522.1 125.3 521.1 126.2 519.5C127.1 518.0 127.9 516.3 128.8 514.3C129.7 512.3 130.6 510.1 131.4 507.7C132.3 505.3 133.2 502.7 134.1 499.8C134.9 497.0 135.8 493.7 136.7 490.6C137.6 487.6 138.4 484.1 139.3 481.4C140.2 478.8 141.1 476.7 141.9 474.9C142.8 473.0 143.7 471.5 144.6 470.3C145.5 469.1 146.3 468.3 147.2 467.6C148.1 467.0 148.7 466.7 149.8 466.3C150.9 466.0 152.5 465.9 153.8 465.7C155.1 465.5 156.0 465.1 157.7 465.0C159.4 464.9 162.1 465.2 163.9 465.2C165.8 465.2 167.3 465.2 168.9 464.9C170.6 464.7 172.3 464.0 173.9 463.7C175.6 463.4 177.3 463.5 178.9 463.2C180.6 462.9 182.3 462.2 183.9 461.9C185.6 461.6 187.2 461.8 188.9 461.4C190.6 461.0 192.2 460.3 193.9 459.4C195.6 458.6 197.2 457.4 198.9 456.4C200.6 455.5 202.2 454.3 203.9 453.9C205.6 453.6 207.2 454.1 208.9 454.4C210.5 454.7 212.2 455.5 213.9 455.7C215.5 455.9 217.2 455.3 218.9 455.7C220.5 456.1 222.2 457.5 223.9 458.2C225.5 458.9 227.2 459.6 228.9 459.9C230.5 460.2 232.2 459.8 233.8 459.9C235.5 460.1 237.2 459.9 238.8 460.7C240.5 461.4 242.2 463.6 243.8 464.4C245.5 465.3 247.2 465.6 248.8 465.7C250.5 465.8 252.2 464.8 253.8 464.9C255.5 465.0 257.1 466.1 258.8 466.4C260.5 466.8 262.1 466.8 263.8 466.9C265.5 467.1 267.1 467.6 268.8 467.4C270.5 467.2 272.1 466.4 273.8 465.7C275.5 465.0 277.1 463.9 278.8 463.2C280.4 462.5 282.1 462.1 283.8 461.4C285.4 460.8 287.1 459.8 288.8 459.4C290.4 459.1 292.3 459.3 293.8 459.4C295.2 459.5 296.9 459.8 297.5 459.9" fill="none" stroke="#000" stroke-width="1.85"/>
<path d="M11.5 499.9C13.2 500.4 17.7 502.0 21.5 503.1C25.2 504.3 30.2 505.8 34.0 506.9C37.7 507.9 41.0 508.9 43.9 509.4C46.9 509.8 48.5 509.1 51.4 509.4C54.4 509.6 58.5 510.1 61.4 510.6C64.3 511.1 66.9 512.1 68.9 512.4C70.9 512.6 72.4 512.5 73.6 512.3C74.9 512.1 75.4 511.1 76.3 511.0C77.1 510.9 78.0 511.8 78.9 511.7C79.8 511.5 80.7 512.3 81.5 510.3C82.3 508.4 82.8 504.4 83.5 499.8C84.1 495.2 84.8 488.9 85.5 482.8C86.1 476.6 86.8 468.5 87.4 463.0C88.1 457.6 88.7 453.0 89.4 449.9C90.1 446.8 90.8 445.7 91.4 444.6C92.0 443.6 92.5 443.2 93.1 443.3C93.6 443.4 94.1 443.6 94.6 445.3C95.2 447.1 96.0 450.2 96.6 453.8C97.3 457.5 97.9 462.4 98.6 467.0C99.2 471.6 99.9 476.8 100.6 481.4C101.2 486.0 101.9 490.9 102.5 494.6C103.2 498.3 103.7 501.1 104.5 503.8C105.3 506.4 106.1 508.5 107.1 510.3C108.1 512.2 109.3 513.8 110.4 514.9C111.5 516.0 112.6 516.6 113.7 516.9C114.8 517.2 115.9 517.3 117.0 516.6C118.1 516.0 119.2 514.5 120.3 513.0C121.4 511.5 122.5 509.4 123.6 507.7C124.6 506.1 125.7 504.6 126.8 503.1C127.9 501.6 129.0 500.4 130.1 498.5C131.2 496.7 132.4 494.1 133.4 491.9C134.4 489.8 135.2 487.6 136.0 485.4C136.9 483.2 137.8 481.2 138.7 478.8C139.5 476.4 140.4 473.3 141.3 470.9C142.2 468.5 142.9 466.3 143.9 464.4C144.9 462.4 146.0 460.5 147.2 459.1C148.4 457.7 149.8 456.6 151.1 455.8C152.5 455.1 153.0 455.1 155.1 454.5C157.2 453.9 161.6 452.5 163.9 451.9C166.3 451.4 167.3 451.4 168.9 451.4C170.6 451.4 172.3 451.9 173.9 451.9C175.6 452.0 177.3 451.8 178.9 451.9C180.6 452.1 182.3 452.5 183.9 452.7C185.6 452.9 187.2 453.2 188.9 453.2C190.6 453.1 192.2 452.8 193.9 452.4C195.6 452.1 197.2 452.0 198.9 451.2C200.6 450.4 202.2 447.7 203.9 447.4C205.6 447.2 207.2 449.0 208.9 449.4C210.5 449.9 212.2 450.2 213.9 449.9C215.5 449.7 217.2 448.3 218.9 448.2C220.5 448.1 222.2 448.4 223.9 449.4C225.5 450.5 227.2 453.0 228.9 454.4C230.5 455.9 232.2 457.4 233.8 458.2C235.5 459.0 237.2 459.0 238.8 459.4C240.5 459.8 242.2 460.3 243.8 460.7C245.5 461.1 247.2 461.7 248.8 461.9C250.5 462.1 252.2 461.7 253.8 461.9C255.5 462.1 257.1 463.0 258.8 463.2C260.5 463.4 262.1 463.1 263.8 463.2C265.5 463.3 267.1 464.1 268.8 463.9C270.5 463.7 272.1 462.5 273.8 461.9C275.5 461.4 277.1 461.0 278.8 460.7C280.4 460.4 282.1 460.4 283.8 460.2C285.4 460.0 287.1 459.8 288.8 459.4C290.4 459.1 292.3 458.3 293.8 458.2C295.2 458.1 296.9 458.8 297.5 458.9" fill="none" stroke="#00f" stroke-width="1.9" stroke-dasharray="5 1.5 2.5 1.5"/>
<path d="M11.5 499.9C13.2 500.4 17.7 502.0 21.5 503.1C25.2 504.2 29.8 505.3 34.0 506.4C38.1 507.4 42.3 508.5 46.4 509.4C50.6 510.2 55.6 511.0 58.9 511.4C62.3 511.7 64.3 511.1 66.4 511.4C68.5 511.6 70.2 512.8 71.4 513.1C72.6 513.4 72.8 513.2 73.6 513.0C74.4 512.7 75.4 511.9 76.3 511.7C77.1 511.4 78.0 511.9 78.9 511.7C79.8 511.4 80.7 512.3 81.5 510.3C82.3 508.4 82.8 504.2 83.5 499.8C84.1 495.5 84.8 488.9 85.5 484.1C86.1 479.2 86.8 474.6 87.4 470.9C88.1 467.2 88.7 464.1 89.4 461.7C90.1 459.3 90.7 457.7 91.4 456.5C92.1 455.3 92.8 454.4 93.6 454.5C94.4 454.6 95.2 455.5 96.0 457.1C96.7 458.8 97.3 461.4 97.9 464.4C98.6 467.3 99.2 471.4 99.9 474.9C100.6 478.4 101.2 482.3 101.9 485.4C102.5 488.4 103.1 490.9 103.8 493.3C104.6 495.7 105.6 498.1 106.5 499.8C107.4 501.6 108.1 502.8 109.1 503.8C110.1 504.8 111.3 505.5 112.4 505.7C113.5 506.0 114.7 505.5 115.7 505.1C116.7 504.6 117.3 504.1 118.3 503.1C119.3 502.1 120.5 500.4 121.6 499.2C122.7 498.0 123.7 497.1 124.9 495.9C126.1 494.7 127.6 493.3 128.8 491.9C130.0 490.6 131.0 489.5 132.1 488.0C133.2 486.5 134.4 484.5 135.4 482.8C136.4 481.0 137.1 479.2 138.0 477.5C138.9 475.7 139.8 473.9 140.6 472.2C141.5 470.6 142.3 469.0 143.3 467.6C144.2 466.3 145.5 465.1 146.5 464.4C147.6 463.6 148.6 463.5 149.8 463.0C151.0 462.6 152.5 462.2 153.8 461.7C155.1 461.3 156.0 461.0 157.7 460.4C159.4 459.8 162.1 458.8 163.9 458.2C165.8 457.6 167.3 457.4 168.9 456.9C170.6 456.5 172.3 456.0 173.9 455.7C175.6 455.4 177.3 455.2 178.9 454.9C180.6 454.6 182.3 454.1 183.9 453.9C185.6 453.8 187.2 454.1 188.9 453.9C190.6 453.8 192.2 453.5 193.9 453.2C195.6 452.9 197.2 452.1 198.9 451.9C200.6 451.7 202.2 452.0 203.9 451.9C205.6 451.9 207.2 451.2 208.9 451.4C210.5 451.7 212.2 452.7 213.9 453.2C215.5 453.7 217.2 453.8 218.9 454.4C220.5 455.1 222.2 456.2 223.9 456.9C225.5 457.7 227.2 458.5 228.9 458.9C230.5 459.3 232.2 459.1 233.8 459.4C235.5 459.7 237.2 460.3 238.8 460.7C240.5 461.1 242.2 461.7 243.8 461.9C245.5 462.1 247.2 461.9 248.8 461.9C250.5 461.9 252.2 461.8 253.8 461.9C255.5 462.1 257.1 462.5 258.8 462.7C260.5 462.9 262.1 463.3 263.8 463.2C265.5 463.1 267.1 462.2 268.8 461.9C270.5 461.6 272.1 461.4 273.8 461.4C275.5 461.4 277.1 461.9 278.8 461.9C280.4 461.9 282.1 461.6 283.8 461.4C285.4 461.2 287.1 460.8 288.8 460.7C290.4 460.6 292.3 460.6 293.8 460.7C295.2 460.8 296.9 461.3 297.5 461.4" fill="none" stroke="#f00" stroke-width="1.8" stroke-dasharray="6 6"/>
<path d="M11.5 499.4C13.2 500.0 17.7 501.9 21.5 503.1C25.2 504.4 29.8 505.8 34.0 506.9C38.1 507.9 42.3 508.7 46.4 509.4C50.6 510.0 55.2 510.0 58.9 510.6C62.7 511.2 66.2 512.3 68.9 513.1C71.6 513.9 73.6 514.5 74.9 515.6C76.3 516.7 76.3 518.3 76.9 519.5C77.6 520.7 78.3 522.1 78.9 522.8C79.5 523.6 79.9 524.9 80.5 524.1C81.0 523.4 81.6 521.8 82.2 518.2C82.8 514.6 83.5 508.8 84.1 502.5C84.8 496.1 85.5 487.1 86.1 480.1C86.8 473.1 87.4 465.9 88.1 460.4C88.7 454.9 89.4 450.3 90.1 447.3C90.7 444.2 91.4 443.1 92.0 442.0C92.7 440.9 93.3 440.4 94.0 440.7C94.6 441.0 95.3 441.8 96.0 444.0C96.6 446.2 97.3 450.0 97.9 453.8C98.6 457.7 99.2 462.8 99.9 467.0C100.6 471.1 101.2 475.1 101.9 478.8C102.5 482.5 103.2 486.5 103.8 489.3C104.5 492.2 105.1 493.9 105.8 495.9C106.6 497.9 107.5 499.5 108.4 501.1C109.4 502.8 110.6 504.4 111.7 505.7C112.8 507.1 114.0 508.4 115.0 509.0C116.0 509.6 116.8 509.7 117.6 509.3C118.5 508.9 119.3 507.4 120.3 506.4C121.3 505.4 122.5 504.1 123.6 503.1C124.6 502.1 125.7 501.6 126.8 500.5C127.9 499.4 129.0 498.2 130.1 496.5C131.2 494.9 132.4 492.7 133.4 490.6C134.4 488.6 135.2 486.5 136.0 484.1C136.9 481.7 137.8 478.8 138.7 476.2C139.5 473.6 140.4 470.7 141.3 468.3C142.2 465.9 142.9 463.6 143.9 461.7C144.9 459.9 146.0 458.4 147.2 457.1C148.4 455.8 149.8 454.8 151.1 453.8C152.5 452.9 153.0 452.4 155.1 451.2C157.2 450.1 161.6 448.1 163.9 446.9C166.3 445.8 167.3 445.1 168.9 444.5C170.6 443.8 172.3 443.4 173.9 443.2C175.6 443.0 177.3 443.3 178.9 443.2C180.6 443.1 182.3 442.7 183.9 442.5C185.6 442.2 187.2 441.7 188.9 441.5C190.6 441.2 192.2 440.9 193.9 440.7C195.6 440.5 197.2 440.3 198.9 440.2C200.6 440.1 202.2 440.0 203.9 440.0C205.6 439.9 207.2 439.9 208.9 440.0C210.5 440.0 212.2 440.0 213.9 440.2C215.5 440.5 217.2 441.2 218.9 441.5C220.5 441.7 222.2 441.7 223.9 442.0C225.5 442.2 227.2 442.6 228.9 443.2C230.5 443.8 232.2 444.9 233.8 445.7C235.5 446.5 237.2 447.6 238.8 448.2C240.5 448.8 242.2 449.0 243.8 449.4C245.5 449.9 247.2 450.5 248.8 450.7C250.5 450.9 252.2 450.8 253.8 450.7C255.5 450.6 257.1 450.2 258.8 449.9C260.5 449.7 262.1 449.6 263.8 449.4C265.5 449.3 267.1 449.2 268.8 448.9C270.5 448.7 272.1 448.5 273.8 448.2C275.5 447.9 277.1 447.4 278.8 446.9C280.4 446.4 282.1 445.7 283.8 445.2C285.4 444.7 287.1 444.2 288.8 443.7C290.4 443.2 292.3 442.4 293.8 442.0C295.2 441.5 296.9 441.3 297.5 441.2" fill="none" stroke="#0f0" stroke-width="1.8" stroke-dasharray="1.8 1.7"/>
<line x1="389.9" y1="506.5" x2="676.1" y2="506.5" stroke="#d0d0d0" stroke-width="1"/>
<line x1="437.5" y1="407.7" x2="437.5" y2="556.2" stroke="#d0d0d0" stroke-width="1"/>
<line x1="435.6" y1="407.7" x2="437.6" y2="407.7" stroke="#d0d0d0" stroke-width="1"/>
<text x="434.1" y="410.6" class="t7" text-anchor="end">10</text>
<line x1="435.6" y1="457.2" x2="437.6" y2="457.2" stroke="#d0d0d0" stroke-width="1"/>
<text x="434.1" y="460.1" class="t7" text-anchor="end">5</text>
<line x1="435.6" y1="556.2" x2="437.6" y2="556.2" stroke="#d0d0d0" stroke-width="1"/>
<text x="434.1" y="559.1" class="t7" text-anchor="end">-5</text>
<line x1="389.5" y1="506.7" x2="389.5" y2="509.7" stroke="#999" stroke-width="1"/>
<text x="389.9" y="520.3" class="t7" text-anchor="middle">-200</text>
<line x1="485.5" y1="506.7" x2="485.5" y2="509.7" stroke="#999" stroke-width="1"/>
<text x="485.3" y="520.3" class="t7" text-anchor="middle">200</text>
<line x1="533.5" y1="506.7" x2="533.5" y2="509.7" stroke="#999" stroke-width="1"/>
<text x="533.0" y="520.3" class="t7" text-anchor="middle">400</text>
<line x1="580.5" y1="506.7" x2="580.5" y2="509.7" stroke="#999" stroke-width="1"/>
<text x="580.7" y="520.3" class="t7" text-anchor="middle">600</text>
<line x1="628.5" y1="506.7" x2="628.5" y2="509.7" stroke="#999" stroke-width="1"/>
<text x="628.4" y="520.3" class="t7" text-anchor="middle">800</text>
<text x="437.9" y="404.8" class="lb">FC4</text>
<path d="M389.5 501.9C391.2 502.2 395.7 503.0 399.5 503.9C403.2 504.7 407.8 505.9 412.0 506.9C416.1 507.8 420.3 508.7 424.4 509.4C428.6 510.0 433.2 510.1 436.9 510.6C440.7 511.1 444.2 512.4 446.9 512.6C449.6 512.8 451.6 511.3 452.9 511.7C454.3 512.0 454.3 514.0 454.9 514.9C455.6 515.9 456.3 517.0 456.9 517.6C457.4 518.2 457.6 519.3 458.2 518.5C458.7 517.7 459.5 516.1 460.2 513.0C460.8 509.9 461.5 505.3 462.1 499.8C462.8 494.4 463.5 486.3 464.1 480.1C464.8 474.0 465.4 467.9 466.1 463.0C466.7 458.2 467.4 454.1 468.1 451.2C468.7 448.4 469.4 446.9 470.0 446.0C470.6 445.0 471.1 444.9 471.6 445.3C472.1 445.7 472.7 446.5 473.3 448.6C473.9 450.7 474.6 454.1 475.3 457.8C475.9 461.5 476.6 466.8 477.2 470.9C477.9 475.1 478.6 479.0 479.2 482.8C479.9 486.5 480.5 490.2 481.2 493.3C481.8 496.3 482.4 499.0 483.2 501.1C483.9 503.3 484.9 505.1 485.8 506.4C486.7 507.7 487.5 508.3 488.4 508.8C489.3 509.2 490.1 509.5 491.0 509.3C492.0 509.1 493.3 508.6 494.3 507.7C495.3 506.8 496.1 505.3 497.0 503.8C497.8 502.2 498.7 500.1 499.6 498.5C500.5 497.0 501.3 495.9 502.2 494.6C503.1 493.3 503.9 491.9 504.8 490.6C505.8 489.3 507.0 488.0 508.1 486.7C509.2 485.4 510.4 484.3 511.4 482.8C512.4 481.2 513.2 479.5 514.0 477.5C514.9 475.5 515.8 472.9 516.7 470.9C517.5 469.0 518.4 467.1 519.3 465.7C520.2 464.2 521.0 463.4 521.9 462.4C522.8 461.4 523.6 460.4 524.5 459.8C525.5 459.1 526.6 458.6 527.8 458.4C529.0 458.3 530.5 459.1 531.8 459.1C533.1 459.1 534.0 458.5 535.7 458.4C537.4 458.4 540.1 458.6 541.9 458.7C543.8 458.7 545.3 458.9 546.9 458.7C548.6 458.5 550.3 457.6 551.9 457.4C553.6 457.2 555.3 457.5 556.9 457.4C558.6 457.4 560.3 457.0 561.9 456.9C563.6 456.9 565.2 456.8 566.9 456.9C568.6 457.1 570.2 457.8 571.9 457.7C573.6 457.6 575.2 457.2 576.9 456.4C578.6 455.7 580.6 453.9 581.9 453.2C583.1 452.5 583.6 452.2 584.4 452.4C585.2 452.6 585.6 453.7 586.9 454.4C588.1 455.2 590.2 456.4 591.9 456.9C593.5 457.5 595.2 457.4 596.9 457.7C598.5 458.0 600.2 458.6 601.9 458.9C603.5 459.3 605.2 459.8 606.9 459.9C608.5 460.0 610.2 459.3 611.8 459.4C613.5 459.6 615.2 460.1 616.8 460.7C618.5 461.3 620.2 462.4 621.8 463.2C623.5 463.9 625.2 464.8 626.8 465.2C628.5 465.6 630.2 465.4 631.8 465.7C633.5 466.0 635.1 466.4 636.8 466.9C638.5 467.5 640.1 468.2 641.8 468.9C643.5 469.6 645.1 471.0 646.8 471.2C648.5 471.3 650.1 470.3 651.8 469.9C653.5 469.5 655.1 469.2 656.8 468.9C658.4 468.6 660.1 468.6 661.8 468.2C663.4 467.8 665.1 466.4 666.8 466.4C668.4 466.4 670.3 467.9 671.8 468.2C673.2 468.5 674.9 468.2 675.5 468.2" fill="none" stroke="#000" stroke-width="1.85"/>
<path d="M389.5 501.4C391.2 501.8 395.7 503.0 399.5 503.9C403.2 504.8 408.2 505.9 412.0 506.9C415.7 507.8 419.0 509.0 421.9 509.4C424.9 509.7 426.5 508.7 429.4 508.9C432.4 509.1 436.5 510.0 439.4 510.6C442.3 511.2 444.9 512.2 446.9 512.4C448.9 512.5 450.4 512.0 451.6 511.7C452.9 511.3 453.5 510.8 454.3 510.3C455.0 509.9 455.6 509.6 456.2 509.0C456.9 508.5 457.5 508.6 458.2 507.1C458.9 505.5 459.5 503.4 460.2 499.8C460.8 496.2 461.5 490.6 462.1 485.4C462.8 480.1 463.5 473.6 464.1 468.3C464.8 463.0 465.4 457.6 466.1 453.8C466.7 450.1 467.4 447.5 468.1 446.0C468.7 444.4 469.2 444.8 469.8 444.6C470.3 444.5 470.7 444.3 471.3 445.3C471.9 446.3 472.6 447.8 473.3 450.6C474.0 453.3 474.6 457.7 475.3 461.7C475.9 465.8 476.6 470.9 477.2 474.9C477.9 478.8 478.6 482.4 479.2 485.4C479.9 488.3 480.4 490.6 481.2 492.6C482.0 494.6 482.8 496.1 483.8 497.2C484.8 498.3 486.0 498.9 487.1 499.2C488.2 499.4 489.3 499.2 490.4 498.8C491.5 498.3 492.6 497.7 493.7 496.5C494.8 495.4 495.9 493.8 497.0 491.9C498.1 490.1 499.3 487.4 500.2 485.4C501.2 483.4 501.9 481.7 502.9 480.1C503.9 478.6 505.1 477.4 506.2 476.2C507.2 475.0 508.3 474.1 509.4 472.9C510.5 471.7 511.7 470.5 512.7 469.0C513.7 467.4 514.5 465.5 515.4 463.7C516.2 461.9 517.1 460.1 518.0 458.4C518.9 456.8 519.6 455.3 520.6 453.8C521.6 452.4 522.7 451.0 523.9 449.9C525.1 448.8 526.5 447.8 527.8 447.3C529.1 446.7 530.5 446.8 531.8 446.6C533.1 446.4 534.0 446.2 535.7 446.0C537.4 445.7 540.1 445.5 541.9 445.2C543.8 444.9 545.3 444.4 546.9 444.5C548.6 444.5 550.3 445.3 551.9 445.7C553.6 446.1 555.3 446.5 556.9 446.9C558.6 447.4 560.3 447.9 561.9 448.2C563.6 448.5 565.2 448.7 566.9 448.9C568.6 449.2 570.2 449.4 571.9 449.4C573.6 449.5 575.2 449.7 576.9 449.4C578.6 449.2 580.6 448.7 581.9 448.2C583.1 447.7 583.6 446.4 584.4 446.4C585.2 446.4 585.6 447.5 586.9 448.2C588.1 448.9 590.2 450.3 591.9 450.7C593.5 451.1 595.2 450.8 596.9 450.7C598.5 450.6 600.2 449.7 601.9 449.9C603.5 450.2 605.2 451.7 606.9 452.4C608.5 453.2 610.2 453.8 611.8 454.4C613.5 455.1 615.2 455.6 616.8 456.2C618.5 456.8 620.2 457.6 621.8 458.2C623.5 458.7 625.2 459.0 626.8 459.4C628.5 459.8 630.2 460.3 631.8 460.7C633.5 461.1 635.1 461.6 636.8 461.9C638.5 462.3 640.1 462.4 641.8 462.7C643.5 463.0 645.1 463.5 646.8 463.7C648.5 463.9 650.1 463.9 651.8 463.9C653.5 463.9 655.1 463.8 656.8 463.7C658.4 463.5 660.1 463.5 661.8 463.2C663.4 462.9 665.1 462.1 666.8 461.9C668.4 461.7 670.3 461.8 671.8 461.9C673.2 462.0 674.9 462.3 675.5 462.4" fill="none" stroke="#00f" stroke-width="1.9" stroke-dasharray="5 1.5 2.5 1.5"/>
<path d="M389.5 501.4C391.2 501.8 395.7 503.0 399.5 503.9C403.2 504.8 407.8 505.9 412.0 506.9C416.1 507.8 420.3 508.7 424.4 509.4C428.6 510.0 433.6 510.4 436.9 510.6C440.3 510.8 442.3 510.5 444.4 510.6C446.5 510.7 448.0 511.7 449.4 511.4C450.8 511.0 452.0 508.5 452.9 508.4C453.9 508.2 454.3 510.1 454.9 510.3C455.6 510.6 456.2 510.6 456.9 509.7C457.5 508.8 458.2 507.6 458.9 505.1C459.5 502.6 460.2 498.5 460.8 494.6C461.5 490.6 462.1 485.8 462.8 481.4C463.5 477.1 464.1 472.0 464.8 468.3C465.4 464.6 466.1 461.2 466.7 459.1C467.4 457.0 468.0 456.5 468.7 455.8C469.4 455.1 470.3 454.7 471.1 454.9C471.8 455.1 472.6 455.8 473.3 457.1C474.0 458.5 474.6 460.5 475.3 463.0C475.9 465.6 476.6 469.4 477.2 472.2C477.9 475.1 478.5 477.9 479.2 480.1C480.0 482.3 480.9 484.2 481.8 485.4C482.8 486.6 484.0 486.9 485.1 487.4C486.2 487.8 487.4 488.2 488.4 488.0C489.4 487.8 490.2 486.9 491.0 486.0C491.9 485.2 492.8 484.0 493.7 482.8C494.5 481.5 495.3 480.1 496.3 478.8C497.3 477.5 498.5 476.1 499.6 474.9C500.7 473.7 501.8 472.4 502.9 471.6C504.0 470.8 505.1 470.8 506.2 470.3C507.2 469.7 508.3 469.2 509.4 468.3C510.5 467.4 511.6 466.2 512.7 465.0C513.8 463.8 515.0 462.3 516.0 461.1C517.0 459.9 517.8 458.8 518.6 457.8C519.5 456.8 520.3 455.8 521.3 455.2C522.2 454.5 523.5 454.3 524.5 453.8C525.6 453.4 526.6 453.0 527.8 452.5C529.0 452.1 530.5 451.5 531.8 451.2C533.1 450.9 534.0 450.6 535.7 450.6C537.4 450.5 540.1 450.8 541.9 450.7C543.8 450.6 545.3 450.2 546.9 449.9C548.6 449.7 550.3 449.6 551.9 449.4C553.6 449.3 555.3 449.2 556.9 448.9C558.6 448.7 560.3 448.1 561.9 448.2C563.6 448.3 565.2 448.9 566.9 449.4C568.6 449.9 570.2 451.1 571.9 451.2C573.6 451.3 575.2 450.3 576.9 449.9C578.6 449.6 580.2 448.8 581.9 448.9C583.6 449.1 585.2 450.1 586.9 450.7C588.5 451.3 590.2 452.0 591.9 452.4C593.5 452.9 595.2 452.9 596.9 453.2C598.5 453.4 600.2 453.7 601.9 453.9C603.5 454.1 605.2 454.3 606.9 454.4C608.5 454.6 610.2 454.7 611.8 454.9C613.5 455.1 615.2 455.4 616.8 455.7C618.5 455.9 620.2 456.3 621.8 456.4C623.5 456.6 625.2 456.4 626.8 456.4C628.5 456.5 630.2 456.7 631.8 456.9C633.5 457.1 635.1 457.3 636.8 457.7C638.5 458.1 640.1 459.1 641.8 459.4C643.5 459.8 645.1 459.9 646.8 459.9C648.5 459.9 650.1 459.6 651.8 459.4C653.5 459.3 655.1 458.8 656.8 458.9C658.4 459.0 660.1 459.6 661.8 459.9C663.4 460.2 665.1 460.4 666.8 460.7C668.4 460.9 670.3 461.1 671.8 461.4C673.2 461.8 674.9 462.5 675.5 462.7" fill="none" stroke="#f00" stroke-width="1.8" stroke-dasharray="6 6"/>
<path d="M389.5 499.9C391.2 500.5 395.7 502.7 399.5 503.9C403.2 505.0 407.8 505.9 412.0 506.9C416.1 507.8 420.3 508.7 424.4 509.4C428.6 510.0 433.2 510.0 436.9 510.6C440.7 511.2 444.2 512.5 446.9 513.1C449.6 513.7 451.6 513.6 452.9 514.3C454.3 514.9 454.3 516.3 454.9 516.9C455.6 517.6 456.3 518.0 456.9 518.2C457.4 518.5 457.6 519.4 458.2 518.5C458.7 517.6 459.5 516.3 460.2 513.0C460.8 509.6 461.5 504.4 462.1 498.5C462.8 492.6 463.5 483.8 464.1 477.5C464.8 471.1 465.4 465.0 466.1 460.4C466.7 455.8 467.4 452.4 468.1 449.9C468.7 447.4 469.4 446.3 470.0 445.3C470.6 444.3 471.1 443.7 471.6 444.0C472.1 444.3 472.7 445.3 473.3 447.3C473.9 449.2 474.6 452.5 475.3 455.8C475.9 459.1 476.6 463.4 477.2 467.0C477.9 470.6 478.6 474.6 479.2 477.5C479.9 480.3 480.4 482.3 481.2 484.1C482.0 485.8 482.8 486.9 483.8 488.0C484.8 489.1 486.0 490.1 487.1 490.6C488.2 491.2 489.3 491.4 490.4 491.3C491.5 491.2 492.6 491.0 493.7 490.0C494.8 489.0 495.9 487.0 497.0 485.4C498.1 483.7 499.3 481.7 500.2 480.1C501.2 478.6 501.9 477.3 502.9 476.2C503.9 475.1 505.1 474.4 506.2 473.6C507.2 472.7 508.3 472.1 509.4 470.9C510.5 469.7 511.7 467.9 512.7 466.3C513.7 464.8 514.5 463.4 515.4 461.7C516.2 460.1 517.1 458.2 518.0 456.5C518.9 454.7 519.6 452.8 520.6 451.2C521.6 449.7 522.7 448.3 523.9 447.3C525.1 446.3 526.5 445.9 527.8 445.3C529.1 444.8 530.5 444.3 531.8 444.0C533.1 443.7 534.0 444.0 535.7 443.3C537.4 442.7 540.1 440.8 541.9 440.0C543.8 439.1 545.3 438.8 546.9 438.5C548.6 438.2 550.3 438.2 551.9 438.2C553.6 438.2 555.3 438.4 556.9 438.5C558.6 438.5 560.3 438.4 561.9 438.5C563.6 438.5 565.2 438.8 566.9 439.0C568.6 439.1 570.2 439.3 571.9 439.5C573.6 439.6 575.2 439.8 576.9 440.0C578.6 440.2 580.2 440.4 581.9 440.7C583.6 441.0 585.2 441.4 586.9 442.0C588.5 442.5 590.2 443.3 591.9 444.0C593.5 444.6 595.2 445.5 596.9 445.7C598.5 445.9 600.2 445.3 601.9 445.2C603.5 445.1 605.2 444.7 606.9 445.0C608.5 445.2 610.2 445.9 611.8 446.4C613.5 447.0 615.2 447.7 616.8 448.2C618.5 448.7 620.2 449.0 621.8 449.4C623.5 449.9 625.2 450.4 626.8 450.7C628.5 451.0 630.2 451.3 631.8 451.4C633.5 451.6 635.1 451.4 636.8 451.4C638.5 451.5 640.1 451.9 641.8 451.9C643.5 451.9 645.1 451.6 646.8 451.4C648.5 451.3 650.1 451.3 651.8 451.2C653.5 451.1 655.1 450.9 656.8 450.7C658.4 450.5 660.1 450.2 661.8 449.9C663.4 449.7 665.1 449.1 666.8 448.9C668.4 448.8 670.3 449.0 671.8 448.9C673.2 448.9 674.9 448.7 675.5 448.7" fill="none" stroke="#0f0" stroke-width="1.8" stroke-dasharray="1.8 1.7"/>
<line x1="10.6" y1="706.5" x2="292.5" y2="706.5" stroke="#888888" stroke-width="1"/>
<line x1="57.5" y1="606.7" x2="57.5" y2="756.0" stroke="#888888" stroke-width="1"/>
<line x1="55.6" y1="606.7" x2="57.6" y2="606.7" stroke="#888888" stroke-width="1"/>
<text x="54.1" y="609.6" class="t7" text-anchor="end">10</text>
<line x1="55.6" y1="656.5" x2="57.6" y2="656.5" stroke="#888888" stroke-width="1"/>
<text x="54.1" y="659.4" class="t7" text-anchor="end">5</text>
<line x1="55.6" y1="756.0" x2="57.6" y2="756.0" stroke="#888888" stroke-width="1"/>
<text x="54.1" y="758.9" class="t7" text-anchor="end">-5</text>
<line x1="10.5" y1="706.2" x2="10.5" y2="709.2" stroke="#999" stroke-width="1"/>
<text x="10.6" y="719.8" class="t7" text-anchor="middle">-200</text>
<line x1="104.5" y1="706.2" x2="104.5" y2="709.2" stroke="#999" stroke-width="1"/>
<text x="104.6" y="719.8" class="t7" text-anchor="middle">200</text>
<line x1="151.5" y1="706.2" x2="151.5" y2="709.2" stroke="#999" stroke-width="1"/>
<text x="151.6" y="719.8" class="t7" text-anchor="middle">400</text>
<line x1="198.5" y1="706.2" x2="198.5" y2="709.2" stroke="#999" stroke-width="1"/>
<text x="198.5" y="719.8" class="t7" text-anchor="middle">600</text>
<line x1="245.5" y1="706.2" x2="245.5" y2="709.2" stroke="#999" stroke-width="1"/>
<text x="245.5" y="719.8" class="t7" text-anchor="middle">800</text>
<text x="57.9" y="603.8" class="lb">C3</text>
<path d="M10.7 702.9C11.8 702.9 15.1 703.4 17.0 703.4C18.9 703.4 20.3 702.7 22.0 702.9C23.6 703.1 24.5 703.9 27.0 704.6C29.5 705.3 34.0 706.5 37.0 707.1C39.9 707.7 41.1 708.0 44.4 708.4C47.8 708.7 53.2 708.7 56.9 709.1C60.7 709.5 64.2 710.6 66.9 710.9C69.6 711.1 71.6 710.4 72.9 710.7C74.3 711.0 74.3 711.9 74.9 712.6C75.6 713.4 76.3 714.6 76.9 715.3C77.5 715.9 77.9 717.1 78.5 716.6C79.0 716.0 79.6 714.9 80.2 712.0C80.8 709.0 81.5 703.6 82.1 698.8C82.8 694.0 83.5 687.9 84.1 683.1C84.8 678.2 85.4 673.4 86.1 669.9C86.7 666.4 87.4 663.9 88.1 662.0C88.7 660.2 89.5 659.4 90.0 658.8C90.6 658.2 90.8 657.9 91.3 658.5C91.9 659.0 92.6 659.9 93.3 662.0C94.0 664.2 94.6 667.7 95.3 671.2C95.9 674.7 96.6 679.1 97.2 683.1C97.9 687.0 98.6 691.2 99.2 694.9C99.9 698.6 100.5 702.4 101.2 705.4C101.8 708.4 102.4 710.5 103.2 712.6C103.9 714.7 104.9 716.6 105.8 717.9C106.7 719.2 107.4 720.0 108.4 720.5C109.4 721.1 110.6 721.3 111.7 721.2C112.8 721.1 113.9 720.7 115.0 719.9C116.1 719.0 117.2 717.2 118.3 715.9C119.4 714.6 120.5 713.2 121.6 712.0C122.6 710.8 123.7 710.0 124.8 708.7C125.9 707.4 127.0 705.7 128.1 704.1C129.2 702.4 130.3 701.0 131.4 698.8C132.5 696.6 133.6 693.6 134.7 690.9C135.8 688.3 136.9 685.5 138.0 683.1C139.1 680.7 140.2 678.4 141.3 676.5C142.4 674.6 143.5 673.2 144.5 671.9C145.6 670.6 146.6 669.5 147.8 668.6C149.0 667.7 150.5 667.3 151.8 666.6C153.1 666.0 154.0 665.2 155.7 664.7C157.4 664.1 160.1 663.8 161.9 663.4C163.8 663.0 165.3 662.8 166.9 662.2C168.6 661.6 170.3 660.2 171.9 659.7C173.6 659.1 175.3 659.1 176.9 658.9C178.6 658.8 180.3 659.1 181.9 658.9C183.6 658.8 185.2 658.0 186.9 657.9C188.6 657.8 190.2 658.6 191.9 658.4C193.6 658.3 195.4 657.5 196.9 657.2C198.4 656.9 199.4 656.3 200.6 656.7C201.9 657.1 202.9 658.8 204.4 659.7C205.8 660.5 207.7 661.3 209.4 661.7C211.0 662.1 212.7 661.7 214.4 662.2C216.0 662.7 217.7 663.8 219.4 664.7C221.0 665.5 222.7 666.6 224.4 667.2C226.0 667.7 227.7 667.5 229.4 667.9C231.0 668.3 232.7 669.0 234.3 669.7C236.0 670.4 237.7 671.2 239.3 672.2C241.0 673.1 242.7 674.7 244.3 675.4C246.0 676.2 247.7 676.2 249.3 676.7C251.0 677.2 252.6 678.0 254.3 678.4C256.0 678.8 257.6 678.7 259.3 678.9C261.0 679.1 262.6 679.6 264.3 679.6C266.0 679.7 267.6 679.3 269.3 679.2C271.0 679.0 272.6 679.2 274.3 678.9C275.9 678.6 277.6 677.4 279.3 677.2C280.9 676.9 282.8 677.2 284.3 677.2C285.7 677.2 286.8 677.0 288.0 677.2C289.3 677.3 291.1 677.8 291.8 677.9" fill="none" stroke="#000" stroke-width="1.85"/>
<path d="M10.7 701.6C12.2 702.0 15.9 702.9 19.5 703.9C23.0 704.8 28.2 706.4 32.0 707.1C35.7 707.8 39.0 707.7 41.9 707.9C44.9 708.1 46.5 708.1 49.4 708.4C52.4 708.6 56.5 708.7 59.4 709.1C62.3 709.5 64.9 710.6 66.9 710.9C68.9 711.1 70.4 710.9 71.6 710.7C72.9 710.4 73.5 709.3 74.3 709.3C75.0 709.3 75.6 710.4 76.2 710.7C76.9 710.9 77.5 711.8 78.2 710.7C78.9 709.6 79.5 707.6 80.2 704.1C80.8 700.6 81.5 694.7 82.1 689.6C82.8 684.6 83.5 678.5 84.1 673.9C84.8 669.3 85.4 664.9 86.1 662.0C86.7 659.2 87.4 658.1 88.1 656.8C88.7 655.5 89.4 654.5 90.0 654.4C90.7 654.3 91.3 654.6 92.0 656.1C92.6 657.6 93.3 660.2 94.0 663.4C94.6 666.5 95.3 671.2 95.9 675.2C96.6 679.1 97.2 683.5 97.9 687.0C98.6 690.5 99.2 693.7 99.9 696.2C100.5 698.7 101.1 700.5 101.8 702.1C102.6 703.8 103.5 705.1 104.5 706.1C105.5 707.0 106.7 707.6 107.8 708.0C108.9 708.5 109.9 708.8 111.0 708.7C112.1 708.6 113.2 708.1 114.3 707.4C115.4 706.6 116.5 705.3 117.6 704.1C118.7 702.9 119.8 701.2 120.9 700.1C122.0 699.1 123.1 698.4 124.2 697.5C125.3 696.6 126.4 696.0 127.5 694.9C128.6 693.8 129.7 692.7 130.8 690.9C131.8 689.2 132.9 686.6 134.0 684.4C135.1 682.2 136.2 680.0 137.3 677.8C138.4 675.6 139.5 673.4 140.6 671.2C141.7 669.1 142.7 666.4 143.9 664.7C145.1 662.9 146.5 661.7 147.8 660.7C149.1 659.7 150.5 659.4 151.8 658.8C153.1 658.1 154.0 657.8 155.7 656.8C157.4 655.8 160.1 653.8 161.9 652.9C163.8 652.0 165.3 651.9 166.9 651.4C168.6 651.0 170.3 650.5 171.9 650.4C173.6 650.4 175.3 650.7 176.9 650.9C178.6 651.1 180.3 651.4 181.9 651.7C183.6 652.0 185.2 652.6 186.9 652.9C188.6 653.2 190.2 653.4 191.9 653.4C193.6 653.4 195.2 653.1 196.9 652.9C198.6 652.7 200.2 652.1 201.9 652.2C203.6 652.3 205.2 652.8 206.9 653.4C208.5 654.1 210.2 655.6 211.9 655.9C213.5 656.3 215.2 655.4 216.9 655.4C218.5 655.4 220.2 655.2 221.9 655.9C223.5 656.6 225.2 658.6 226.9 659.7C228.5 660.7 230.2 661.2 231.8 662.2C233.5 663.1 235.2 664.4 236.8 665.4C238.5 666.5 240.2 667.5 241.8 668.4C243.5 669.3 245.2 670.4 246.8 670.9C248.5 671.4 250.2 671.3 251.8 671.4C253.5 671.5 255.1 671.5 256.8 671.7C258.5 671.9 260.1 672.4 261.8 672.7C263.5 673.0 265.1 673.2 266.8 673.4C268.5 673.6 270.1 673.9 271.8 673.9C273.5 673.9 275.1 673.6 276.8 673.4C278.4 673.2 280.3 673.2 281.8 672.9C283.2 672.6 283.9 671.3 285.5 671.4C287.2 671.5 290.7 673.1 291.8 673.4" fill="none" stroke="#00f" stroke-width="1.9" stroke-dasharray="5 1.5 2.5 1.5"/>
<path d="M10.7 702.1C12.2 702.4 15.9 703.0 19.5 703.9C23.0 704.7 27.8 706.4 32.0 707.1C36.1 707.9 40.3 708.0 44.4 708.4C48.6 708.7 53.6 708.9 56.9 709.1C60.3 709.3 62.3 709.3 64.4 709.6C66.5 709.9 68.2 710.7 69.4 710.9C70.6 711.0 70.8 710.9 71.6 710.7C72.4 710.4 73.4 709.3 74.3 709.3C75.1 709.3 76.0 710.4 76.9 710.7C77.8 710.9 78.7 712.2 79.5 710.7C80.3 709.1 80.8 705.2 81.5 701.5C82.1 697.7 82.8 692.3 83.5 688.3C84.1 684.4 84.8 680.4 85.4 677.8C86.1 675.2 86.7 673.6 87.4 672.6C88.1 671.5 88.7 671.4 89.4 671.2C90.0 671.1 90.7 671.2 91.3 671.9C92.0 672.6 92.6 673.5 93.3 675.2C94.0 676.8 94.6 679.3 95.3 681.8C95.9 684.2 96.6 687.2 97.2 689.6C97.9 692.0 98.5 694.2 99.2 696.2C100.0 698.2 100.9 700.1 101.8 701.5C102.8 702.8 104.0 703.5 105.1 704.1C106.2 704.7 107.3 705.0 108.4 705.1C109.5 705.2 110.6 705.1 111.7 704.7C112.8 704.4 113.9 703.5 115.0 702.8C116.1 702.0 117.2 701.0 118.3 700.1C119.4 699.3 120.5 698.4 121.6 697.5C122.6 696.6 123.7 695.9 124.8 694.9C125.9 693.9 127.0 692.9 128.1 691.6C129.2 690.3 130.3 688.4 131.4 687.0C132.5 685.6 133.6 684.5 134.7 683.1C135.8 681.6 136.9 680.0 138.0 678.5C139.1 676.9 140.2 675.2 141.3 673.9C142.4 672.6 143.5 671.5 144.5 670.6C145.6 669.7 146.6 669.3 147.8 668.6C149.0 668.0 150.5 667.3 151.8 666.6C153.1 666.0 154.0 665.3 155.7 664.7C157.4 664.1 160.1 663.5 161.9 662.9C163.8 662.3 165.3 661.5 166.9 660.9C168.6 660.4 170.3 660.0 171.9 659.7C173.6 659.3 175.3 659.1 176.9 658.9C178.6 658.7 180.3 658.3 181.9 658.4C183.6 658.6 185.2 659.1 186.9 659.7C188.6 660.3 190.2 661.6 191.9 662.2C193.6 662.8 195.2 663.1 196.9 663.4C198.6 663.7 200.2 663.5 201.9 663.9C203.6 664.3 205.2 665.3 206.9 665.9C208.5 666.6 210.2 667.4 211.9 667.9C213.5 668.4 215.2 668.4 216.9 668.9C218.5 669.4 220.2 670.3 221.9 670.9C223.5 671.5 225.2 672.2 226.9 672.7C228.5 673.2 230.2 673.3 231.8 673.9C233.5 674.5 235.2 675.9 236.8 676.4C238.5 676.9 240.2 676.9 241.8 677.2C243.5 677.4 245.2 677.6 246.8 677.9C248.5 678.2 250.2 678.5 251.8 678.9C253.5 679.3 255.1 680.1 256.8 680.4C258.5 680.7 260.1 681.0 261.8 680.9C263.5 680.8 265.1 679.8 266.8 679.6C268.5 679.5 270.1 679.8 271.8 679.9C273.5 680.0 275.1 680.2 276.8 680.4C278.4 680.6 280.1 680.8 281.8 680.9C283.4 681.0 285.1 680.9 286.8 680.9C288.4 680.9 290.9 680.9 291.8 680.9" fill="none" stroke="#f00" stroke-width="1.8" stroke-dasharray="6 6"/>
<path d="M10.7 700.9C12.2 701.3 15.9 702.3 19.5 703.4C23.0 704.4 27.8 706.3 32.0 707.1C36.1 707.9 40.3 708.0 44.4 708.4C48.6 708.7 53.2 708.6 56.9 709.1C60.7 709.6 64.2 710.9 66.9 711.4C69.6 711.8 71.6 711.5 72.9 712.0C74.3 712.4 74.3 713.3 74.9 713.9C75.6 714.6 76.3 715.4 76.9 715.9C77.5 716.5 77.9 717.9 78.5 717.2C79.0 716.6 79.6 715.0 80.2 712.0C80.8 708.9 81.5 704.1 82.1 698.8C82.8 693.6 83.5 685.7 84.1 680.4C84.8 675.2 85.4 670.8 86.1 667.3C86.7 663.8 87.4 661.2 88.1 659.4C88.7 657.7 89.4 657.2 90.0 656.8C90.6 656.4 91.1 656.4 91.6 656.8C92.1 657.2 92.7 657.7 93.3 659.4C93.9 661.2 94.6 664.2 95.3 667.3C95.9 670.4 96.6 674.3 97.2 677.8C97.9 681.3 98.6 685.5 99.2 688.3C99.9 691.2 100.4 692.9 101.2 694.9C102.0 696.9 102.8 698.8 103.8 700.1C104.8 701.5 106.0 702.1 107.1 702.8C108.2 703.4 109.3 704.0 110.4 704.1C111.5 704.2 112.6 704.0 113.7 703.4C114.8 702.9 115.9 701.7 117.0 700.8C118.1 699.9 119.1 698.9 120.2 698.2C121.3 697.4 122.4 697.0 123.5 696.2C124.6 695.4 125.7 694.7 126.8 693.6C127.9 692.5 129.0 691.4 130.1 689.6C131.2 687.9 132.3 685.3 133.4 683.1C134.5 680.9 135.6 678.7 136.7 676.5C137.8 674.3 138.9 672.1 139.9 669.9C141.0 667.7 142.0 665.1 143.2 663.4C144.4 661.6 145.9 660.5 147.2 659.4C148.5 658.3 149.8 657.7 151.1 656.8C152.4 655.9 153.3 655.6 155.1 654.2C156.9 652.7 160.0 649.4 161.9 647.9C163.9 646.5 165.3 646.1 166.9 645.4C168.6 644.8 170.3 644.5 171.9 644.2C173.6 644.0 175.3 644.1 176.9 644.0C178.6 643.8 180.3 643.4 181.9 643.5C183.6 643.5 185.2 643.9 186.9 644.2C188.6 644.5 190.2 644.9 191.9 645.2C193.6 645.5 195.2 645.6 196.9 645.9C198.6 646.3 200.2 646.8 201.9 647.2C203.6 647.6 205.2 648.0 206.9 648.4C208.5 648.9 210.2 649.1 211.9 649.7C213.5 650.3 215.2 651.5 216.9 652.2C218.5 652.9 220.2 653.3 221.9 653.9C223.5 654.6 225.2 655.2 226.9 655.9C228.5 656.7 230.2 657.6 231.8 658.4C233.5 659.3 235.2 660.0 236.8 660.9C238.5 661.8 240.2 663.3 241.8 663.9C243.5 664.5 245.2 664.4 246.8 664.7C248.5 664.9 250.2 665.2 251.8 665.4C253.5 665.6 255.1 665.8 256.8 665.9C258.5 666.0 260.1 665.8 261.8 665.9C263.5 666.0 265.1 666.4 266.8 666.4C268.5 666.4 270.1 666.1 271.8 665.9C273.5 665.8 275.1 665.6 276.8 665.4C278.4 665.2 280.1 664.9 281.8 664.7C283.4 664.5 285.1 664.3 286.8 664.2C288.4 664.0 290.9 664.0 291.8 663.9" fill="none" stroke="#0f0" stroke-width="1.8" stroke-dasharray="1.8 1.7"/>
<line x1="396.4" y1="706.5" x2="677.4" y2="706.5" stroke="#888888" stroke-width="1"/>
<line x1="443.5" y1="606.7" x2="443.5" y2="756.0" stroke="#444444" stroke-width="1"/>
<line x1="441.2" y1="606.7" x2="443.2" y2="606.7" stroke="#444444" stroke-width="1"/>
<text x="439.7" y="609.6" class="t7" text-anchor="end">10</text>
<line x1="441.2" y1="656.5" x2="443.2" y2="656.5" stroke="#444444" stroke-width="1"/>
<text x="439.7" y="659.4" class="t7" text-anchor="end">5</text>
<line x1="441.2" y1="756.0" x2="443.2" y2="756.0" stroke="#444444" stroke-width="1"/>
<text x="439.7" y="758.9" class="t7" text-anchor="end">-5</text>
<line x1="396.5" y1="706.2" x2="396.5" y2="709.2" stroke="#999" stroke-width="1"/>
<text x="396.4" y="719.8" class="t7" text-anchor="middle">-200</text>
<line x1="490.5" y1="706.2" x2="490.5" y2="709.2" stroke="#999" stroke-width="1"/>
<text x="490.0" y="719.8" class="t7" text-anchor="middle">200</text>
<line x1="536.5" y1="706.2" x2="536.5" y2="709.2" stroke="#999" stroke-width="1"/>
<text x="536.9" y="719.8" class="t7" text-anchor="middle">400</text>
<line x1="583.5" y1="706.2" x2="583.5" y2="709.2" stroke="#999" stroke-width="1"/>
<text x="583.7" y="719.8" class="t7" text-anchor="middle">600</text>
<line x1="630.5" y1="706.2" x2="630.5" y2="709.2" stroke="#999" stroke-width="1"/>
<text x="630.6" y="719.8" class="t7" text-anchor="middle">800</text>
<text x="443.5" y="603.8" class="lb">CZ</text>
<path d="M396.7 698.9C397.8 699.1 401.1 700.0 403.0 700.4C404.9 700.8 406.3 700.8 408.0 701.4C409.6 702.0 410.5 702.9 413.0 703.9C415.5 704.8 420.0 706.2 423.0 707.1C425.9 708.1 427.1 709.0 430.4 709.6C433.8 710.2 439.2 710.2 442.9 710.9C446.7 711.5 450.3 712.9 452.9 713.4C455.5 713.8 457.1 713.4 458.4 713.8C459.7 714.3 460.0 714.8 460.9 715.8C461.8 716.9 462.8 720.5 463.6 720.3C464.5 720.1 465.3 719.1 466.1 714.6C467.0 710.1 467.8 700.7 468.6 693.4C469.5 686.1 470.3 677.4 471.1 670.9C472.0 664.5 472.9 658.2 473.6 654.7C474.3 651.1 474.9 650.7 475.4 649.7C475.9 648.7 476.0 647.8 476.6 648.4C477.3 649.1 478.3 650.1 479.1 653.4C480.0 656.8 480.8 662.6 481.6 668.4C482.5 674.2 483.5 682.8 484.1 688.4C484.7 693.9 484.6 697.8 485.1 701.8C485.6 705.7 486.5 708.9 487.2 712.0C487.8 715.0 488.5 717.8 489.2 720.1C489.9 722.5 490.4 724.4 491.2 726.3C492.1 728.2 493.4 730.3 494.3 731.4C495.2 732.5 496.0 732.8 496.9 732.9C497.7 733.0 498.6 732.5 499.4 731.9C500.2 731.3 500.7 730.5 501.5 729.3C502.2 728.2 503.2 726.6 504.0 725.3C504.9 723.9 505.6 722.5 506.6 721.2C507.5 719.8 508.6 718.6 509.6 717.1C510.7 715.5 511.8 713.8 512.7 712.0C513.6 710.1 514.4 708.2 515.3 705.8C516.1 703.5 517.0 700.7 517.8 697.7C518.7 694.6 519.5 690.5 520.4 687.4C521.2 684.4 522.1 681.7 522.9 679.3C523.8 676.9 524.6 675.0 525.5 673.1C526.3 671.3 527.1 669.6 528.0 668.0C529.0 666.5 530.1 665.0 531.1 663.9C532.1 662.8 533.1 662.1 534.2 661.4C535.2 660.7 536.2 660.5 537.2 659.9C538.2 659.3 539.3 658.3 540.3 657.8C541.3 657.3 542.3 657.0 543.4 656.8C544.4 656.5 544.8 656.6 546.4 656.3C548.0 655.9 551.0 655.2 552.9 654.7C554.9 654.1 556.3 653.4 557.9 652.9C559.6 652.5 561.3 652.5 562.9 652.2C564.6 651.9 566.3 651.2 567.9 650.9C569.6 650.7 571.2 650.8 572.9 650.4C574.6 650.1 576.2 649.5 577.9 648.9C579.6 648.4 581.4 647.8 582.9 647.2C584.4 646.6 585.4 645.3 586.6 645.4C587.9 645.6 588.9 647.2 590.4 647.9C591.8 648.7 593.7 649.3 595.4 650.2C597.0 651.1 598.7 652.4 600.4 653.4C602.0 654.5 603.7 655.9 605.4 656.7C607.0 657.4 608.7 657.6 610.4 657.9C612.0 658.3 613.7 658.4 615.4 658.9C617.0 659.4 618.7 660.1 620.3 660.9C622.0 661.8 623.7 663.2 625.3 663.9C627.0 664.7 628.7 665.1 630.3 665.4C632.0 665.8 633.7 665.8 635.3 665.9C637.0 666.1 638.6 666.1 640.3 666.4C642.0 666.8 643.9 667.6 645.3 667.9C646.8 668.2 647.8 668.5 649.1 668.4C650.3 668.3 651.3 667.7 652.8 667.2C654.3 666.7 656.1 666.0 657.8 665.4C659.5 664.8 661.1 664.0 662.8 663.4C664.4 662.8 666.1 662.2 667.8 661.7C669.4 661.2 671.3 660.6 672.8 660.4C674.2 660.2 675.9 660.4 676.5 660.4" fill="none" stroke="#000" stroke-width="1.85"/>
<path d="M396.7 699.6C398.2 700.2 401.9 702.1 405.5 703.4C409.0 704.6 414.2 706.1 418.0 707.1C421.7 708.1 425.0 709.2 427.9 709.6C430.9 710.0 432.5 709.3 435.4 709.6C438.4 709.9 442.5 710.7 445.4 711.4C448.3 712.0 450.7 713.2 452.9 713.4C455.1 713.5 456.9 712.7 458.4 712.1C459.9 711.5 460.7 710.6 461.6 709.6C462.6 708.6 463.3 708.1 464.1 705.9C465.0 703.6 465.8 700.9 466.6 695.9C467.5 690.9 468.3 682.1 469.1 675.9C470.0 669.7 470.8 663.4 471.6 658.4C472.5 653.4 473.4 648.5 474.1 645.9C474.9 643.4 475.4 643.0 476.1 643.0C476.9 643.0 477.8 643.2 478.6 645.9C479.5 648.7 480.3 654.3 481.1 659.7C482.0 665.1 482.8 671.4 483.6 678.4C484.5 685.4 485.4 696.5 486.1 701.8C486.9 707.0 487.5 707.9 488.2 709.9C488.9 712.0 489.4 713.0 490.2 714.0C491.1 715.0 492.3 715.6 493.3 716.1C494.3 716.5 495.3 716.7 496.4 716.6C497.4 716.4 498.5 716.0 499.4 715.0C500.4 714.1 501.1 712.7 502.0 710.9C502.8 709.2 503.6 706.7 504.5 704.8C505.5 702.9 506.6 701.2 507.6 699.7C508.6 698.2 509.6 697.0 510.7 695.6C511.7 694.3 512.7 693.2 513.7 691.5C514.7 689.8 515.8 687.6 516.8 685.4C517.8 683.2 518.8 681.0 519.9 678.2C520.9 675.5 521.9 672.3 522.9 669.1C523.9 665.8 525.0 661.7 526.0 658.8C527.0 655.9 528.0 653.6 529.1 651.7C530.1 649.8 531.1 648.7 532.1 647.6C533.1 646.5 534.2 645.6 535.2 645.0C536.2 644.4 537.2 644.4 538.2 644.0C539.3 643.6 540.3 643.0 541.3 642.5C542.3 642.0 543.4 641.4 544.4 640.9C545.4 640.5 546.0 640.4 547.4 639.9C548.9 639.4 551.2 638.4 552.9 638.0C554.7 637.5 556.3 637.4 557.9 637.2C559.6 637.0 561.3 636.6 562.9 636.7C564.6 636.8 566.3 637.6 567.9 638.0C569.6 638.3 571.2 638.8 572.9 639.0C574.6 639.2 576.2 639.3 577.9 639.2C579.6 639.1 581.4 639.0 582.9 638.5C584.4 637.9 585.4 636.0 586.6 636.0C587.9 636.0 588.9 637.7 590.4 638.5C591.8 639.2 593.7 640.0 595.4 640.5C597.0 640.9 598.7 640.8 600.4 641.0C602.0 641.1 603.7 640.8 605.4 641.5C607.0 642.1 608.7 643.5 610.4 644.7C612.0 645.9 613.7 647.3 615.4 648.4C617.0 649.6 618.7 650.5 620.3 651.7C622.0 652.9 623.7 654.5 625.3 655.4C627.0 656.4 628.7 656.8 630.3 657.2C632.0 657.6 633.7 657.7 635.3 657.9C637.0 658.1 638.6 658.3 640.3 658.4C642.0 658.6 643.6 658.8 645.3 658.9C647.0 659.0 648.6 659.0 650.3 658.9C652.0 658.8 653.6 658.6 655.3 658.4C657.0 658.2 658.6 657.9 660.3 657.7C661.9 657.5 663.6 657.5 665.3 657.2C666.9 656.9 668.4 656.2 670.3 655.9C672.1 655.6 675.5 655.5 676.5 655.4" fill="none" stroke="#00f" stroke-width="1.9" stroke-dasharray="5 1.5 2.5 1.5"/>
<path d="M396.7 699.6C398.2 700.2 401.9 702.1 405.5 703.4C409.0 704.6 413.8 706.1 418.0 707.1C422.1 708.1 426.3 708.9 430.4 709.6C434.6 710.3 439.6 710.8 442.9 711.4C446.3 711.9 448.3 712.5 450.4 712.9C452.5 713.2 454.0 713.7 455.4 713.4C456.9 713.0 457.9 712.1 459.2 710.9C460.4 709.6 461.9 707.9 462.9 705.9C463.9 703.8 464.6 702.1 465.4 698.4C466.2 694.6 467.1 688.4 467.9 683.4C468.7 678.4 469.6 672.4 470.4 668.4C471.2 664.5 472.1 661.8 472.9 659.7C473.7 657.6 474.5 656.5 475.4 655.9C476.2 655.4 477.0 655.4 477.9 656.4C478.7 657.5 479.5 659.3 480.4 662.2C481.2 665.0 481.9 667.2 482.9 673.4C483.8 679.7 485.2 694.5 486.1 699.7C487.0 704.9 487.5 703.5 488.2 704.8C488.9 706.2 489.4 707.0 490.2 707.9C491.1 708.7 492.3 709.7 493.3 709.9C494.3 710.2 495.3 709.8 496.4 709.4C497.4 709.0 498.4 708.6 499.4 707.4C500.4 706.1 501.5 703.4 502.5 701.8C503.5 700.1 504.5 699.0 505.5 697.7C506.6 696.3 507.6 694.8 508.6 693.6C509.6 692.4 510.7 691.5 511.7 690.5C512.7 689.5 513.7 689.0 514.7 687.4C515.8 685.9 516.8 683.5 517.8 681.3C518.8 679.1 519.9 676.4 520.9 674.2C521.9 671.9 522.9 669.7 523.9 668.0C525.0 666.3 526.0 665.1 527.0 663.9C528.0 662.7 529.1 661.7 530.1 660.9C531.1 660.0 532.1 659.4 533.1 658.8C534.2 658.2 535.2 658.0 536.2 657.3C537.2 656.6 538.1 655.5 539.3 654.7C540.5 654.0 542.2 653.3 543.4 652.7C544.5 652.1 544.8 651.9 546.4 651.2C548.0 650.5 551.0 649.4 552.9 648.4C554.9 647.5 556.3 646.3 557.9 645.4C559.6 644.6 561.3 643.8 562.9 643.5C564.6 643.1 566.3 643.2 567.9 643.5C569.6 643.7 571.2 644.3 572.9 644.7C574.6 645.1 576.2 645.7 577.9 645.9C579.6 646.2 581.2 645.9 582.9 645.9C584.6 646.0 586.2 646.0 587.9 646.4C589.6 646.9 591.2 647.7 592.9 648.4C594.5 649.2 596.2 649.9 597.9 650.9C599.5 652.0 601.2 653.6 602.9 654.7C604.5 655.7 606.2 656.5 607.9 657.2C609.5 657.9 611.2 658.5 612.9 658.9C614.5 659.3 616.2 659.3 617.8 659.7C619.5 660.0 621.2 660.5 622.8 660.9C624.5 661.3 626.2 662.1 627.8 662.2C629.5 662.3 631.2 661.6 632.8 661.4C634.5 661.2 636.2 660.8 637.8 660.9C639.5 661.1 641.1 662.0 642.8 662.2C644.5 662.4 646.1 662.5 647.8 662.2C649.5 661.9 651.1 660.8 652.8 660.4C654.5 660.0 656.1 659.9 657.8 659.7C659.5 659.5 661.1 659.4 662.8 659.2C664.4 659.0 666.1 658.6 667.8 658.4C669.4 658.2 671.3 658.0 672.8 657.9C674.2 657.8 675.9 657.9 676.5 657.9" fill="none" stroke="#f00" stroke-width="1.8" stroke-dasharray="6 6"/>
<path d="M396.7 698.4C398.2 699.1 401.9 701.4 405.5 702.9C409.0 704.3 413.8 706.0 418.0 707.1C422.1 708.2 426.3 708.9 430.4 709.6C434.6 710.3 439.2 710.7 442.9 711.4C446.7 712.0 450.3 712.8 452.9 713.4C455.5 713.9 457.1 714.2 458.4 714.6C459.7 715.0 460.0 714.8 460.9 715.8C461.8 716.9 462.8 721.0 463.6 720.8C464.5 720.6 465.3 719.6 466.1 714.6C467.0 709.6 467.8 698.6 468.6 690.9C469.5 683.2 470.3 675.1 471.1 668.4C472.0 661.8 472.9 655.1 473.6 650.9C474.3 646.8 474.8 644.9 475.4 643.5C475.9 642.0 476.2 641.8 476.9 642.2C477.5 642.6 478.5 643.0 479.4 645.9C480.2 648.9 481.0 654.3 481.9 659.7C482.7 665.1 483.7 671.9 484.4 678.4C485.1 684.9 485.5 694.5 486.1 698.7C486.8 702.9 487.3 702.5 488.2 703.8C489.0 705.1 490.2 705.8 491.2 706.4C492.3 706.9 493.3 707.1 494.3 707.4C495.3 707.6 496.4 708.1 497.4 707.9C498.4 707.6 499.4 707.0 500.4 705.8C501.5 704.6 502.5 702.3 503.5 700.7C504.5 699.1 505.5 697.5 506.6 696.1C507.6 694.8 508.6 693.7 509.6 692.6C510.7 691.4 511.7 690.9 512.7 689.5C513.7 688.1 514.7 686.4 515.8 684.4C516.8 682.3 517.8 680.1 518.8 677.2C519.9 674.3 520.9 670.4 521.9 667.0C522.9 663.6 523.9 659.9 525.0 656.8C526.0 653.7 527.0 650.9 528.0 648.6C529.1 646.3 530.1 644.4 531.1 643.0C532.1 641.5 533.1 640.8 534.2 639.9C535.2 639.1 536.2 638.6 537.2 637.9C538.2 637.1 539.3 636.2 540.3 635.3C541.3 634.5 542.3 633.6 543.4 632.8C544.4 631.9 544.8 631.4 546.4 630.2C548.0 629.0 551.0 626.4 552.9 625.5C554.9 624.6 556.3 624.9 557.9 624.7C559.6 624.6 561.3 624.6 562.9 624.7C564.6 624.8 566.3 625.1 567.9 625.2C569.6 625.4 571.2 625.2 572.9 625.5C574.6 625.7 576.2 626.3 577.9 626.7C579.6 627.1 581.2 627.7 582.9 628.0C584.6 628.3 586.2 628.1 587.9 628.5C589.6 628.9 591.2 629.6 592.9 630.5C594.5 631.3 596.2 632.7 597.9 633.5C599.5 634.3 601.2 634.7 602.9 635.2C604.5 635.8 606.2 636.2 607.9 636.7C609.5 637.3 611.2 637.5 612.9 638.5C614.5 639.4 616.2 641.0 617.8 642.2C619.5 643.5 621.2 644.9 622.8 645.9C624.5 647.0 626.2 647.8 627.8 648.4C629.5 649.1 631.2 649.5 632.8 649.7C634.5 649.9 636.2 649.7 637.8 649.7C639.5 649.7 641.1 649.7 642.8 649.7C644.5 649.7 646.1 649.8 647.8 649.7C649.5 649.6 651.1 649.4 652.8 648.9C654.5 648.5 656.1 647.7 657.8 647.2C659.5 646.7 661.1 646.4 662.8 645.9C664.4 645.4 666.1 644.7 667.8 644.2C669.4 643.7 671.3 643.2 672.8 643.0C674.2 642.7 675.9 642.7 676.5 642.7" fill="none" stroke="#0f0" stroke-width="1.8" stroke-dasharray="1.8 1.7"/>
<line x1="11.0" y1="905.5" x2="292.4" y2="905.5" stroke="#555555" stroke-width="1"/>
<line x1="57.5" y1="805.8" x2="57.5" y2="955.0" stroke="#888888" stroke-width="1"/>
<line x1="55.9" y1="805.8" x2="57.9" y2="805.8" stroke="#888888" stroke-width="1"/>
<text x="54.4" y="808.7" class="t7" text-anchor="end">10</text>
<line x1="55.9" y1="855.5" x2="57.9" y2="855.5" stroke="#888888" stroke-width="1"/>
<text x="54.4" y="858.4" class="t7" text-anchor="end">5</text>
<line x1="55.9" y1="955.0" x2="57.9" y2="955.0" stroke="#888888" stroke-width="1"/>
<text x="54.4" y="957.9" class="t7" text-anchor="end">-5</text>
<line x1="11.5" y1="905.3" x2="11.5" y2="908.3" stroke="#999" stroke-width="1"/>
<text x="11.0" y="918.9" class="t7" text-anchor="middle">-200</text>
<line x1="104.5" y1="905.3" x2="104.5" y2="908.3" stroke="#999" stroke-width="1"/>
<text x="104.8" y="918.9" class="t7" text-anchor="middle">200</text>
<line x1="151.5" y1="905.3" x2="151.5" y2="908.3" stroke="#999" stroke-width="1"/>
<text x="151.7" y="918.9" class="t7" text-anchor="middle">400</text>
<line x1="198.5" y1="905.3" x2="198.5" y2="908.3" stroke="#999" stroke-width="1"/>
<text x="198.6" y="918.9" class="t7" text-anchor="middle">600</text>
<line x1="245.5" y1="905.3" x2="245.5" y2="908.3" stroke="#999" stroke-width="1"/>
<text x="245.5" y="918.9" class="t7" text-anchor="middle">800</text>
<text x="58.2" y="802.9" class="lb">C4</text>
<path d="M10.7 901.1C12.2 901.3 15.9 901.6 19.5 902.4C23.0 903.1 27.8 904.7 32.0 905.6C36.1 906.6 40.3 907.4 44.4 908.1C48.6 908.8 53.2 909.4 56.9 909.9C60.7 910.4 64.5 910.8 66.9 911.1C69.4 911.4 70.4 911.5 71.6 911.5C72.9 911.6 73.5 911.4 74.3 911.5C75.0 911.7 75.7 912.2 76.2 912.3C76.8 912.5 77.0 912.9 77.5 912.3C78.1 911.7 78.9 911.2 79.5 908.7C80.2 906.1 80.8 901.6 81.5 896.8C82.1 892.0 82.8 885.2 83.5 879.8C84.1 874.3 84.8 868.1 85.4 864.0C86.1 859.8 86.7 856.7 87.4 854.8C88.1 852.9 88.7 852.5 89.4 852.4C90.0 852.3 90.7 852.6 91.3 854.1C92.0 855.6 92.6 858.4 93.3 861.4C94.0 864.3 94.6 868.4 95.3 871.9C95.9 875.4 96.6 879.1 97.2 882.4C97.9 885.7 98.6 888.9 99.2 891.6C99.9 894.2 100.5 896.3 101.2 898.1C101.8 900.0 102.4 901.5 103.2 902.7C103.9 903.9 104.9 904.8 105.8 905.4C106.7 905.9 107.5 906.0 108.4 906.0C109.3 906.0 110.2 906.0 111.0 905.4C111.9 904.7 112.8 903.5 113.7 902.1C114.5 900.7 115.4 898.8 116.3 896.8C117.2 894.9 118.1 892.2 118.9 890.3C119.8 888.3 120.7 886.3 121.6 885.0C122.4 883.7 123.2 883.3 124.2 882.4C125.2 881.5 126.4 880.6 127.5 879.8C128.6 878.9 129.8 878.2 130.8 877.1C131.7 876.0 132.5 874.7 133.4 873.2C134.3 871.6 135.1 869.7 136.0 867.9C136.9 866.2 137.6 864.2 138.6 862.7C139.6 861.1 140.8 859.9 141.9 858.7C143.0 857.5 144.1 856.1 145.2 855.4C146.3 854.8 147.4 855.0 148.5 854.8C149.6 854.6 150.7 854.4 151.8 854.1C152.9 853.9 153.4 853.5 155.1 853.2C156.8 852.9 160.0 852.7 161.9 852.4C163.9 852.2 165.3 851.9 166.9 851.7C168.6 851.5 170.3 851.4 171.9 851.2C173.6 851.0 175.3 850.6 176.9 850.4C178.6 850.3 180.3 850.3 181.9 850.4C183.6 850.6 185.2 850.8 186.9 851.2C188.6 851.6 190.2 852.7 191.9 852.9C193.6 853.1 195.2 852.9 196.9 852.4C198.6 851.9 200.6 850.1 201.9 849.9C203.1 849.7 203.1 850.0 204.4 851.2C205.6 852.4 207.7 855.6 209.4 856.9C211.0 858.3 212.7 858.6 214.4 859.2C216.0 859.8 217.7 860.1 219.4 860.4C221.0 860.8 222.7 860.8 224.4 861.2C226.0 861.5 227.7 862.0 229.4 862.4C231.0 862.8 232.7 862.8 234.3 863.7C236.0 864.5 237.7 866.5 239.3 867.4C241.0 868.3 242.7 868.7 244.3 869.2C246.0 869.6 247.7 869.6 249.3 869.9C251.0 870.2 252.6 870.7 254.3 871.2C256.0 871.6 257.6 871.9 259.3 872.4C261.0 872.9 262.6 874.0 264.3 874.2C266.0 874.3 267.6 873.4 269.3 873.2C271.0 872.9 272.6 872.5 274.3 872.4C275.9 872.3 277.6 872.8 279.3 872.4C280.9 872.0 282.8 870.1 284.3 869.9C285.7 869.7 286.8 870.9 288.0 871.2C289.3 871.5 291.1 871.6 291.8 871.7" fill="none" stroke="#000" stroke-width="1.85"/>
<path d="M10.7 901.1C12.2 901.4 15.9 902.0 19.5 902.9C23.0 903.7 28.2 905.4 32.0 906.1C35.7 906.9 39.0 906.9 41.9 907.4C44.9 907.8 46.5 908.2 49.4 908.6C52.4 909.0 56.5 909.4 59.4 909.9C62.3 910.3 64.9 911.1 66.9 911.1C68.9 911.1 70.4 910.6 71.6 910.0C72.9 909.3 73.5 908.2 74.3 907.3C75.0 906.5 75.6 906.0 76.2 904.7C76.9 903.4 77.5 902.1 78.2 899.5C78.9 896.8 79.5 893.3 80.2 888.9C80.8 884.6 81.5 878.4 82.1 873.2C82.8 867.9 83.5 861.6 84.1 857.4C84.8 853.3 85.4 850.4 86.1 848.2C86.7 846.0 87.5 845.0 88.1 844.3C88.6 843.5 88.8 843.3 89.4 843.6C89.9 843.9 90.7 844.2 91.3 846.2C92.0 848.3 92.6 852.3 93.3 856.1C94.0 859.9 94.6 865.1 95.3 869.2C95.9 873.4 96.6 877.8 97.2 881.1C97.9 884.4 98.5 886.8 99.2 888.9C100.0 891.1 100.9 893.1 101.8 894.2C102.8 895.3 104.0 895.7 105.1 895.8C106.2 895.9 107.3 895.3 108.4 894.9C109.5 894.4 110.7 893.9 111.7 892.9C112.7 891.9 113.5 890.7 114.3 888.9C115.2 887.2 116.1 884.6 117.0 882.4C117.8 880.2 118.7 877.8 119.6 875.8C120.5 873.8 121.2 872.0 122.2 870.6C123.2 869.1 124.4 868.1 125.5 867.3C126.6 866.4 127.8 866.1 128.8 865.3C129.8 864.5 130.4 864.0 131.4 862.7C132.4 861.4 133.6 859.2 134.7 857.4C135.8 855.7 136.9 854.0 138.0 852.2C139.1 850.3 140.2 848.0 141.3 846.2C142.4 844.5 143.5 842.9 144.5 841.6C145.6 840.4 146.7 839.4 147.8 839.0C148.9 838.7 150.0 839.7 151.1 839.7C152.2 839.7 152.6 839.8 154.4 839.0C156.2 838.2 159.9 835.5 161.9 835.0C164.0 834.4 165.3 835.5 166.9 835.7C168.6 835.9 170.3 835.9 171.9 836.2C173.6 836.5 175.3 837.0 176.9 837.5C178.6 837.9 180.3 838.3 181.9 838.7C183.6 839.1 185.2 839.5 186.9 840.0C188.6 840.4 190.2 840.8 191.9 841.2C193.6 841.6 195.2 842.7 196.9 842.5C198.6 842.2 200.6 840.3 201.9 840.0C203.1 839.6 203.1 839.2 204.4 840.5C205.6 841.7 207.7 846.0 209.4 847.4C211.0 848.9 212.7 848.9 214.4 849.2C216.0 849.5 217.7 849.2 219.4 849.4C221.0 849.7 222.7 849.4 224.4 850.4C226.0 851.5 227.7 854.4 229.4 855.7C231.0 856.9 232.7 857.3 234.3 857.9C236.0 858.5 237.7 858.8 239.3 859.2C241.0 859.5 242.7 859.6 244.3 859.9C246.0 860.3 247.7 860.8 249.3 861.2C251.0 861.6 252.6 862.1 254.3 862.4C256.0 862.8 257.6 862.9 259.3 863.2C261.0 863.5 262.6 863.8 264.3 864.2C266.0 864.5 267.6 865.3 269.3 865.4C271.0 865.5 272.6 865.1 274.3 864.9C275.9 864.7 277.6 864.5 279.3 864.2C280.9 863.8 282.8 863.1 284.3 862.9C285.7 862.8 286.8 862.9 288.0 863.2C289.3 863.4 291.1 864.2 291.8 864.4" fill="none" stroke="#00f" stroke-width="1.9" stroke-dasharray="5 1.5 2.5 1.5"/>
<path d="M10.7 899.9C12.2 900.4 15.9 901.8 19.5 902.9C23.0 903.9 27.8 905.2 32.0 906.1C36.1 907.0 40.3 907.5 44.4 908.1C48.6 908.7 53.6 909.4 56.9 909.9C60.3 910.3 62.3 910.4 64.4 910.6C66.5 910.8 68.2 910.9 69.4 911.1C70.6 911.3 70.8 911.7 71.6 911.5C72.4 911.4 73.5 910.3 74.3 910.0C75.0 909.6 75.6 909.8 76.2 909.3C76.9 908.9 77.5 908.8 78.2 907.3C78.9 905.9 79.5 904.1 80.2 900.8C80.8 897.5 81.5 892.0 82.1 887.6C82.8 883.3 83.5 878.2 84.1 874.5C84.8 870.8 85.4 867.4 86.1 865.3C86.7 863.2 87.4 862.5 88.1 862.0C88.7 861.6 89.4 861.9 90.0 862.7C90.7 863.4 91.3 864.9 92.0 866.6C92.6 868.4 93.3 871.0 94.0 873.2C94.6 875.4 95.3 877.8 95.9 879.8C96.6 881.7 97.1 883.6 97.9 885.0C98.7 886.4 99.5 887.5 100.5 888.3C101.5 889.1 102.7 889.8 103.8 890.0C104.9 890.2 106.0 889.9 107.1 889.6C108.2 889.3 109.3 889.2 110.4 888.3C111.5 887.4 112.7 885.8 113.7 884.4C114.7 882.9 115.4 881.6 116.3 879.8C117.2 877.9 118.1 874.9 118.9 873.2C119.8 871.4 120.6 870.2 121.6 869.2C122.5 868.3 123.7 867.7 124.8 867.3C125.9 866.8 127.0 867.1 128.1 866.6C129.2 866.2 130.3 865.5 131.4 864.6C132.5 863.8 133.6 862.6 134.7 861.4C135.8 860.2 136.9 858.6 138.0 857.4C139.1 856.2 140.2 855.0 141.3 854.1C142.4 853.3 143.5 852.7 144.5 852.2C145.6 851.6 146.6 851.3 147.8 850.8C149.0 850.4 150.5 850.0 151.8 849.5C153.1 849.1 154.0 848.6 155.7 848.2C157.4 847.9 160.1 847.7 161.9 847.4C163.8 847.2 165.3 846.9 166.9 846.7C168.6 846.5 170.3 846.2 171.9 846.2C173.6 846.2 175.3 846.4 176.9 846.7C178.6 847.0 180.3 847.5 181.9 847.9C183.6 848.4 185.2 849.0 186.9 849.4C188.6 849.9 190.2 850.5 191.9 850.7C193.6 850.9 195.2 850.8 196.9 850.7C198.6 850.6 200.2 849.6 201.9 849.9C203.6 850.3 205.2 852.0 206.9 852.9C208.5 853.9 210.2 854.8 211.9 855.4C213.5 856.1 215.2 856.2 216.9 856.7C218.5 857.1 220.2 857.7 221.9 858.2C223.5 858.6 225.2 859.1 226.9 859.4C228.5 859.7 230.2 859.8 231.8 859.9C233.5 860.1 235.2 860.3 236.8 860.4C238.5 860.6 240.2 860.6 241.8 860.7C243.5 860.8 245.2 861.0 246.8 861.2C248.5 861.3 250.2 861.5 251.8 861.7C253.5 861.9 255.1 862.3 256.8 862.4C258.5 862.5 260.1 862.5 261.8 862.4C263.5 862.3 265.1 861.8 266.8 861.7C268.5 861.6 270.1 861.8 271.8 861.9C273.5 862.0 275.1 862.2 276.8 862.4C278.4 862.6 280.1 863.0 281.8 863.2C283.4 863.4 285.1 863.5 286.8 863.7C288.4 863.9 290.9 864.3 291.8 864.4" fill="none" stroke="#f00" stroke-width="1.8" stroke-dasharray="6 6"/>
<path d="M10.7 898.6C12.2 899.2 15.9 901.1 19.5 902.4C23.0 903.6 27.8 905.2 32.0 906.1C36.1 907.0 40.3 907.2 44.4 907.9C48.6 908.5 53.2 909.3 56.9 909.9C60.7 910.4 64.5 910.6 66.9 911.1C69.4 911.6 70.4 912.5 71.6 912.6C72.9 912.7 73.5 911.9 74.3 911.5C75.0 911.2 75.6 911.3 76.2 910.6C76.9 909.9 77.5 909.4 78.2 907.3C78.9 905.3 79.5 902.3 80.2 898.1C80.8 894.0 81.5 887.9 82.1 882.4C82.8 876.9 83.5 870.3 84.1 865.3C84.8 860.3 85.4 855.1 86.1 852.2C86.7 849.2 87.4 848.3 88.1 847.6C88.7 846.8 89.4 847.0 90.0 847.6C90.7 848.1 91.3 848.8 92.0 850.8C92.6 852.9 93.3 856.8 94.0 860.0C94.6 863.3 95.3 867.3 95.9 870.6C96.6 873.8 97.2 877.1 97.9 879.8C98.6 882.4 99.1 884.8 99.9 886.3C100.6 887.9 101.5 888.4 102.5 888.9C103.5 889.5 104.7 889.6 105.8 889.6C106.9 889.6 108.0 889.7 109.1 888.9C110.2 888.2 111.4 886.5 112.4 885.0C113.3 883.5 114.1 881.7 115.0 879.8C115.9 877.8 116.7 875.0 117.6 873.2C118.5 871.3 119.3 869.8 120.2 868.6C121.2 867.4 122.4 866.6 123.5 866.0C124.6 865.3 125.7 865.3 126.8 864.6C127.9 864.0 129.0 863.2 130.1 862.0C131.2 860.8 132.3 859.1 133.4 857.4C134.5 855.8 135.6 854.0 136.7 852.2C137.8 850.3 138.9 848.0 139.9 846.2C141.0 844.5 142.1 842.9 143.2 841.6C144.3 840.4 145.3 839.7 146.5 839.0C147.7 838.4 149.1 838.1 150.5 837.7C151.8 837.3 152.5 837.5 154.4 836.4C156.3 835.3 159.9 832.3 161.9 831.2C164.0 830.1 165.3 830.2 166.9 830.0C168.6 829.8 170.3 829.8 171.9 830.0C173.6 830.1 175.3 830.4 176.9 830.7C178.6 831.1 180.3 831.5 181.9 832.0C183.6 832.5 185.2 833.2 186.9 833.7C188.6 834.2 190.2 834.5 191.9 835.0C193.6 835.5 195.2 836.3 196.9 836.7C198.6 837.1 200.2 836.7 201.9 837.5C203.6 838.2 205.2 839.7 206.9 841.2C208.5 842.7 210.2 845.1 211.9 846.2C213.5 847.3 215.2 847.6 216.9 847.9C218.5 848.3 220.2 848.1 221.9 848.2C223.5 848.3 225.2 848.2 226.9 848.7C228.5 849.2 230.2 850.4 231.8 851.2C233.5 852.0 235.2 852.9 236.8 853.7C238.5 854.4 240.2 855.2 241.8 855.7C243.5 856.2 245.2 856.5 246.8 856.7C248.5 856.9 250.2 856.9 251.8 856.9C253.5 857.0 255.1 857.0 256.8 856.9C258.5 856.9 260.1 856.8 261.8 856.7C263.5 856.6 265.1 856.3 266.8 856.2C268.5 856.0 270.1 855.9 271.8 855.7C273.5 855.5 275.1 855.1 276.8 854.9C278.4 854.7 280.1 854.6 281.8 854.4C283.4 854.2 285.1 853.9 286.8 853.7C288.4 853.4 290.9 853.1 291.8 852.9" fill="none" stroke="#0f0" stroke-width="1.8" stroke-dasharray="1.8 1.7"/>
<line x1="396.1" y1="902.5" x2="676.2" y2="902.5" stroke="#d0d0d0" stroke-width="1"/>
<line x1="442.5" y1="804.8" x2="442.5" y2="951.0" stroke="#d0d0d0" stroke-width="1"/>
<line x1="440.8" y1="804.8" x2="442.8" y2="804.8" stroke="#d0d0d0" stroke-width="1"/>
<text x="439.3" y="807.7" class="t7" text-anchor="end">10</text>
<line x1="440.8" y1="853.5" x2="442.8" y2="853.5" stroke="#d0d0d0" stroke-width="1"/>
<text x="439.3" y="856.4" class="t7" text-anchor="end">5</text>
<line x1="440.8" y1="951.0" x2="442.8" y2="951.0" stroke="#d0d0d0" stroke-width="1"/>
<text x="439.3" y="953.9" class="t7" text-anchor="end">-5</text>
<line x1="396.5" y1="902.3" x2="396.5" y2="905.3" stroke="#999" stroke-width="1"/>
<text x="396.1" y="915.9" class="t7" text-anchor="middle">-200</text>
<line x1="489.5" y1="902.3" x2="489.5" y2="905.3" stroke="#999" stroke-width="1"/>
<text x="489.5" y="915.9" class="t7" text-anchor="middle">200</text>
<line x1="536.5" y1="902.3" x2="536.5" y2="905.3" stroke="#999" stroke-width="1"/>
<text x="536.2" y="915.9" class="t7" text-anchor="middle">400</text>
<line x1="582.5" y1="902.3" x2="582.5" y2="905.3" stroke="#999" stroke-width="1"/>
<text x="582.8" y="915.9" class="t7" text-anchor="middle">600</text>
<line x1="629.5" y1="902.3" x2="629.5" y2="905.3" stroke="#999" stroke-width="1"/>
<text x="629.5" y="915.9" class="t7" text-anchor="middle">800</text>
<text x="443.1" y="801.9" class="lb">F3</text>
<path d="M395.7 899.1C396.8 899.2 400.0 900.0 402.0 899.9C403.9 899.7 405.8 898.2 407.5 898.4C409.1 898.5 409.6 900.1 412.0 900.9C414.4 901.6 419.0 902.3 422.0 902.9C424.9 903.4 426.1 903.8 429.4 904.1C432.8 904.4 438.2 904.4 441.9 904.9C445.7 905.3 449.2 906.3 451.9 906.6C454.6 907.0 456.6 906.0 457.9 907.0C459.3 907.9 459.3 910.3 459.9 912.2C460.5 914.2 461.1 916.9 461.6 918.8C462.1 920.7 462.5 923.4 462.9 923.4C463.4 923.4 463.9 922.4 464.5 918.8C465.1 915.2 465.8 908.1 466.5 901.7C467.1 895.4 467.8 887.3 468.5 880.7C469.1 874.1 469.8 867.6 470.4 862.3C471.1 857.0 471.7 852.4 472.4 849.2C473.1 845.9 473.8 844.0 474.4 842.6C475.0 841.2 475.5 840.6 476.1 840.6C476.6 840.6 477.1 840.7 477.6 842.6C478.2 844.5 479.0 848.1 479.6 851.8C480.3 855.5 480.9 860.5 481.6 864.9C482.2 869.3 482.9 874.1 483.6 878.1C484.2 882.0 484.9 885.3 485.5 888.6C486.2 891.9 486.8 895.1 487.5 897.8C488.2 900.4 488.7 902.6 489.5 904.3C490.2 906.1 491.2 907.4 492.1 908.3C493.0 909.2 493.9 909.3 494.7 909.6C495.6 909.9 496.5 909.8 497.4 909.9C498.2 910.0 499.1 910.6 500.0 910.3C500.9 909.9 501.6 908.6 502.6 907.6C503.6 906.6 504.8 905.5 505.9 904.3C507.0 903.1 508.2 901.9 509.2 900.4C510.2 898.9 510.9 897.1 511.8 895.1C512.7 893.2 513.6 890.8 514.4 888.6C515.3 886.4 516.2 884.0 517.1 882.0C517.9 880.0 518.8 878.3 519.7 876.8C520.6 875.2 521.3 874.0 522.3 872.8C523.3 871.6 524.5 870.5 525.6 869.5C526.7 868.5 527.8 867.6 528.9 866.9C530.0 866.2 531.1 865.9 532.2 865.6C533.3 865.3 534.3 865.1 535.5 864.9C536.7 864.7 537.5 864.1 539.4 864.3C541.3 864.4 544.9 865.7 546.9 865.9C549.0 866.1 550.3 865.7 551.9 865.4C553.6 865.1 555.3 864.3 556.9 864.2C558.6 864.1 560.3 864.9 561.9 864.9C563.6 864.9 565.3 864.6 566.9 864.2C568.6 863.8 570.2 863.0 571.9 862.4C573.6 861.9 575.2 861.5 576.9 860.9C578.6 860.4 580.2 859.7 581.9 859.2C583.6 858.7 585.2 858.0 586.9 857.9C588.6 857.8 590.2 858.6 591.9 858.7C593.5 858.8 595.2 858.1 596.9 858.4C598.5 858.7 600.4 859.8 601.9 860.4C603.3 861.1 604.4 862.3 605.6 862.4C606.9 862.5 607.9 861.1 609.4 860.9C610.8 860.7 612.7 860.9 614.4 861.2C616.0 861.4 617.7 862.0 619.3 862.4C621.0 862.8 622.7 863.1 624.3 863.4C626.0 863.7 627.7 863.8 629.3 864.2C631.0 864.5 632.7 865.0 634.3 865.4C636.0 865.8 637.6 866.4 639.3 866.7C641.0 867.0 642.6 867.1 644.3 867.2C646.0 867.2 647.6 867.2 649.3 867.2C651.0 867.1 652.6 866.9 654.3 866.7C656.0 866.5 657.6 866.0 659.3 865.9C660.9 865.8 662.6 866.3 664.3 866.2C665.9 866.0 667.4 864.8 669.3 864.9C671.1 865.0 674.5 866.4 675.5 866.7" fill="none" stroke="#000" stroke-width="1.85"/>
<path d="M395.7 898.4C397.2 898.8 400.9 900.1 404.5 900.9C408.0 901.6 413.2 902.1 417.0 902.9C420.7 903.6 424.0 905.2 426.9 905.4C429.9 905.5 431.5 903.6 434.4 903.6C437.4 903.6 441.5 904.9 444.4 905.4C447.3 905.8 449.7 905.8 451.9 906.1C454.2 906.4 456.6 906.4 457.9 907.0C459.3 907.6 459.3 908.9 459.9 909.6C460.6 910.3 461.2 911.1 461.9 910.9C462.5 910.7 463.2 910.5 463.9 908.3C464.5 906.1 465.2 902.8 465.8 897.8C466.5 892.7 467.1 884.4 467.8 878.1C468.5 871.7 469.1 864.7 469.8 859.7C470.4 854.6 471.1 850.7 471.7 847.8C472.4 845.0 473.1 843.7 473.7 842.6C474.4 841.5 475.0 841.1 475.7 841.3C476.3 841.5 477.0 841.9 477.6 843.9C478.3 845.9 479.0 849.4 479.6 853.1C480.3 856.8 480.9 862.3 481.6 866.2C482.2 870.2 482.9 873.7 483.6 876.8C484.2 879.8 484.8 882.4 485.5 884.6C486.3 886.8 487.2 888.4 488.2 889.9C489.1 891.4 490.4 892.9 491.4 893.8C492.5 894.8 493.6 895.0 494.7 895.4C495.8 895.8 496.9 896.2 498.0 896.2C499.1 896.2 500.2 895.9 501.3 895.1C502.4 894.4 503.5 893.0 504.6 891.9C505.7 890.8 506.8 889.6 507.9 888.6C509.0 887.6 510.1 887.0 511.2 885.9C512.2 884.9 513.5 883.5 514.4 882.0C515.4 880.5 516.2 878.7 517.1 876.8C517.9 874.8 518.8 872.0 519.7 870.2C520.6 868.3 521.3 867.2 522.3 865.6C523.3 863.9 524.5 861.8 525.6 860.3C526.7 858.9 527.7 857.9 528.9 857.0C530.1 856.2 531.5 855.5 532.8 855.1C534.1 854.7 535.5 854.7 536.8 854.7C538.1 854.6 539.0 854.6 540.7 854.7C542.4 854.7 545.1 854.8 546.9 854.9C548.8 855.1 550.3 855.3 551.9 855.4C553.6 855.6 555.3 855.7 556.9 855.9C558.6 856.1 560.3 856.6 561.9 856.7C563.6 856.8 565.3 856.8 566.9 856.7C568.6 856.6 570.2 856.4 571.9 856.2C573.6 856.0 575.2 855.8 576.9 855.4C578.6 855.1 580.2 854.7 581.9 854.2C583.6 853.7 585.2 852.2 586.9 852.4C588.6 852.6 590.2 855.1 591.9 855.4C593.5 855.7 595.2 854.6 596.9 854.2C598.5 853.8 600.4 853.2 601.9 852.9C603.3 852.6 604.4 852.0 605.6 852.4C606.9 852.9 607.9 854.3 609.4 855.4C610.8 856.6 612.7 858.1 614.4 859.2C616.0 860.2 617.7 861.0 619.3 861.7C621.0 862.3 622.7 862.6 624.3 862.9C626.0 863.2 627.7 863.2 629.3 863.4C631.0 863.6 632.7 863.9 634.3 864.2C636.0 864.4 637.6 864.7 639.3 864.9C641.0 865.1 642.6 865.2 644.3 865.4C646.0 865.6 647.6 865.8 649.3 865.9C651.0 866.0 652.6 866.2 654.3 866.2C656.0 866.2 657.6 866.1 659.3 865.9C660.9 865.7 662.6 865.3 664.3 864.9C665.9 864.5 667.8 863.7 669.3 863.4C670.7 863.2 672.0 863.3 673.0 863.4C674.1 863.5 675.1 864.0 675.5 864.2" fill="none" stroke="#00f" stroke-width="1.9" stroke-dasharray="5 1.5 2.5 1.5"/>
<path d="M395.7 899.1C397.2 899.3 400.9 899.8 404.5 900.4C408.0 900.9 412.8 901.7 417.0 902.4C421.1 903.0 425.3 903.7 429.4 904.1C433.6 904.5 438.8 905.1 441.9 904.9C445.0 904.6 446.1 902.5 448.2 902.4C450.2 902.2 452.8 903.6 454.4 904.1C456.0 904.7 457.0 905.2 457.9 905.7C458.9 906.1 459.3 906.8 459.9 907.0C460.6 907.2 461.2 907.8 461.9 907.0C462.5 906.1 463.2 904.1 463.9 901.7C464.5 899.3 465.2 896.2 465.8 892.5C466.5 888.8 467.1 883.5 467.8 879.4C468.5 875.2 469.1 871.1 469.8 867.6C470.4 864.1 471.1 860.8 471.7 858.4C472.4 855.9 473.0 854.3 473.7 853.1C474.4 851.9 475.3 851.0 476.1 851.1C476.8 851.2 477.6 852.3 478.3 853.8C479.0 855.2 479.6 857.4 480.3 859.7C480.9 862.0 481.6 864.9 482.2 867.6C482.9 870.2 483.5 873.0 484.2 875.4C485.0 877.8 485.9 880.4 486.8 882.0C487.8 883.6 489.0 884.5 490.1 885.3C491.2 886.1 492.3 886.6 493.4 887.0C494.5 887.4 495.6 887.9 496.7 887.9C497.8 888.0 498.9 887.7 500.0 887.3C501.1 886.8 502.2 885.9 503.3 885.3C504.4 884.6 505.5 883.9 506.6 883.3C507.6 882.8 508.7 882.7 509.8 882.0C510.9 881.4 512.0 880.7 513.1 879.4C514.2 878.1 515.3 875.9 516.4 874.1C517.5 872.4 518.6 870.4 519.7 868.9C520.8 867.3 521.9 866.2 523.0 864.9C524.1 863.6 525.2 861.9 526.3 861.0C527.4 860.1 528.5 860.1 529.5 859.7C530.6 859.2 531.6 858.7 532.8 858.4C534.0 858.0 535.5 857.7 536.8 857.7C538.1 857.7 539.0 858.3 540.7 858.4C542.4 858.4 545.1 858.0 546.9 857.9C548.8 857.9 550.3 858.0 551.9 857.9C553.6 857.8 555.3 857.5 556.9 857.4C558.6 857.3 560.3 857.6 561.9 857.4C563.6 857.3 565.3 856.7 566.9 856.7C568.6 856.7 570.2 857.4 571.9 857.4C573.6 857.4 575.2 857.0 576.9 856.7C578.6 856.3 580.2 855.7 581.9 855.4C583.6 855.1 585.2 854.9 586.9 854.9C588.6 854.9 590.2 855.3 591.9 855.4C593.5 855.6 595.2 855.5 596.9 855.9C598.5 856.3 600.2 857.2 601.9 857.9C603.5 858.7 605.2 859.8 606.9 860.4C608.5 861.0 610.2 861.3 611.9 861.7C613.5 862.0 615.2 862.1 616.8 862.4C618.5 862.7 620.2 863.1 621.8 863.4C623.5 863.7 625.2 864.0 626.8 864.2C628.5 864.3 630.2 864.0 631.8 864.2C633.5 864.3 635.2 864.7 636.8 864.9C638.5 865.1 640.1 865.2 641.8 865.4C643.5 865.6 645.1 865.7 646.8 865.9C648.5 866.1 650.1 866.5 651.8 866.7C653.5 866.8 655.1 866.5 656.8 866.7C658.5 866.8 660.1 867.2 661.8 867.4C663.4 867.6 665.1 867.7 666.8 867.9C668.4 868.1 670.3 868.5 671.8 868.7C673.2 868.9 674.9 869.1 675.5 869.2" fill="none" stroke="#f00" stroke-width="1.8" stroke-dasharray="6 6"/>
<path d="M395.7 897.4C397.2 897.8 400.9 899.0 404.5 899.9C408.0 900.8 412.8 902.0 417.0 902.9C421.1 903.7 425.3 904.4 429.4 904.9C433.6 905.4 438.2 905.4 441.9 905.9C445.7 906.4 449.2 907.4 451.9 907.9C454.6 908.3 456.6 907.4 457.9 908.3C459.3 909.1 459.3 911.1 459.9 912.9C460.5 914.6 461.1 917.0 461.6 918.8C462.1 920.5 462.5 923.4 462.9 923.4C463.4 923.4 463.9 922.6 464.5 918.8C465.1 915.0 465.8 907.2 466.5 900.4C467.1 893.6 467.8 885.1 468.5 878.1C469.1 871.1 469.8 863.6 470.4 858.4C471.1 853.1 471.7 849.4 472.4 846.5C473.1 843.7 473.7 842.4 474.4 841.3C475.0 840.1 475.7 839.5 476.3 839.7C477.0 839.9 477.6 840.6 478.3 842.6C479.0 844.6 479.6 848.3 480.3 851.8C480.9 855.3 481.6 859.9 482.2 863.6C482.9 867.3 483.6 871.1 484.2 874.1C484.9 877.2 485.4 879.8 486.2 882.0C487.0 884.2 487.8 885.7 488.8 887.3C489.8 888.8 491.0 890.2 492.1 891.2C493.2 892.3 494.3 893.0 495.4 893.6C496.5 894.1 497.6 894.6 498.7 894.5C499.8 894.4 500.9 893.8 502.0 893.2C503.1 892.5 504.1 891.3 505.2 890.5C506.3 889.8 507.4 889.3 508.5 888.6C509.6 887.8 510.7 887.0 511.8 885.9C512.9 884.9 514.0 883.5 515.1 882.0C516.2 880.5 517.4 878.7 518.4 876.8C519.4 874.8 520.1 872.2 521.0 870.2C521.9 868.2 522.6 866.5 523.6 864.9C524.6 863.4 525.8 862.0 526.9 861.0C528.0 860.0 529.0 859.5 530.2 859.0C531.4 858.5 532.8 858.3 534.1 858.1C535.5 857.9 536.0 857.9 538.1 857.7C540.2 857.5 544.6 857.0 546.9 856.7C549.3 856.4 550.3 856.1 551.9 855.9C553.6 855.7 555.3 855.6 556.9 855.4C558.6 855.3 560.3 855.1 561.9 854.9C563.6 854.7 565.3 854.5 566.9 854.2C568.6 853.8 570.2 853.3 571.9 852.9C573.6 852.6 575.2 852.4 576.9 852.2C578.6 852.0 580.2 851.9 581.9 851.7C583.6 851.5 585.2 851.2 586.9 850.9C588.6 850.6 590.2 850.4 591.9 849.9C593.5 849.5 595.2 848.8 596.9 848.4C598.5 848.1 600.2 848.0 601.9 847.9C603.5 847.9 605.2 847.8 606.9 847.9C608.5 848.1 610.2 848.4 611.9 848.7C613.5 849.0 615.2 849.6 616.8 849.9C618.5 850.3 620.2 850.6 621.8 850.9C623.5 851.2 625.2 851.5 626.8 851.7C628.5 851.9 630.2 852.1 631.8 852.2C633.5 852.3 635.2 852.3 636.8 852.2C638.5 852.1 640.1 851.9 641.8 851.7C643.5 851.5 645.1 851.2 646.8 850.9C648.5 850.6 650.1 850.2 651.8 849.9C653.5 849.6 655.1 849.4 656.8 849.2C658.5 849.0 660.1 848.9 661.8 848.7C663.4 848.5 665.1 848.1 666.8 847.9C668.4 847.8 670.3 847.9 671.8 847.9C673.2 848.0 674.9 848.4 675.5 848.4" fill="none" stroke="#0f0" stroke-width="1.8" stroke-dasharray="1.8 1.7"/>
<line x1="43.9" y1="1229.2" x2="624.1" y2="1229.2" stroke="#606060" stroke-width="1.1"/>
<line x1="140.6" y1="1022.4" x2="140.6" y2="1332.6" stroke="#606060" stroke-width="1.1"/>
<line x1="137.6" y1="1022.4" x2="140.6" y2="1022.4" stroke="#606060" stroke-width="1.1"/>
<text x="133.0" y="1029.4" class="t16" text-anchor="end">10</text>
<line x1="137.6" y1="1125.8" x2="140.6" y2="1125.8" stroke="#606060" stroke-width="1.1"/>
<text x="133.0" y="1132.8" class="t16" text-anchor="end">5</text>
<line x1="137.6" y1="1332.6" x2="140.6" y2="1332.6" stroke="#606060" stroke-width="1.1"/>
<text x="133.0" y="1339.6" class="t16" text-anchor="end">-5</text>
<line x1="43.9" y1="1229.2" x2="43.9" y2="1235.2" stroke="#606060" stroke-width="1.1"/>
<text x="43.9" y="1257.2" class="t16" text-anchor="middle">-200</text>
<line x1="237.3" y1="1229.2" x2="237.3" y2="1235.2" stroke="#606060" stroke-width="1.1"/>
<text x="237.3" y="1257.2" class="t16" text-anchor="middle">200</text>
<line x1="334.0" y1="1229.2" x2="334.0" y2="1235.2" stroke="#606060" stroke-width="1.1"/>
<text x="334.0" y="1257.2" class="t16" text-anchor="middle">400</text>
<line x1="430.7" y1="1229.2" x2="430.7" y2="1235.2" stroke="#606060" stroke-width="1.1"/>
<text x="430.7" y="1257.2" class="t16" text-anchor="middle">600</text>
<line x1="527.4" y1="1229.2" x2="527.4" y2="1235.2" stroke="#606060" stroke-width="1.1"/>
<text x="527.4" y="1257.2" class="t16" text-anchor="middle">800</text>
<text x="139.8" y="1016" class="ttl">Average of F3 FZ F4 FC3 FCZ FC4 C3 CZ C4</text>
<path d="M44.4 1220.0C45.1 1220.2 47.1 1220.8 48.8 1221.2C50.5 1221.6 52.7 1222.2 54.6 1222.2C56.5 1222.3 58.7 1221.7 60.4 1221.5C62.1 1221.3 63.4 1221.0 64.8 1220.8C66.3 1220.6 68.0 1220.2 69.2 1220.3C70.4 1220.5 70.9 1221.1 72.1 1221.8C73.3 1222.5 74.8 1223.6 76.5 1224.4C78.2 1225.2 80.4 1226.0 82.3 1226.6C84.3 1227.2 86.2 1227.6 88.2 1228.1C90.1 1228.6 92.3 1229.0 94.0 1229.5C95.7 1230.0 97.2 1230.4 98.4 1231.0C99.6 1231.6 100.3 1232.4 101.3 1233.2C102.3 1233.9 103.0 1234.9 104.2 1235.4C105.5 1235.9 106.9 1236.1 108.6 1236.1C110.3 1236.1 112.5 1235.5 114.5 1235.4C116.4 1235.2 118.1 1235.2 120.3 1235.4C122.5 1235.5 125.4 1235.7 127.6 1236.1C129.8 1236.5 131.4 1237.2 133.4 1237.6C135.5 1237.9 137.7 1237.9 140.0 1238.3C142.3 1238.6 144.9 1239.3 147.3 1239.7C149.7 1240.2 152.2 1240.5 154.6 1240.9C157.0 1241.3 159.5 1241.8 161.9 1241.9C164.3 1242.1 167.4 1241.7 169.2 1241.9C171.0 1242.2 171.8 1242.3 172.8 1243.4C173.9 1244.5 174.8 1246.4 175.8 1248.5C176.7 1250.6 177.6 1253.7 178.7 1255.8C179.8 1257.9 181.2 1260.7 182.3 1260.9C183.4 1261.2 184.4 1259.3 185.3 1257.3C186.1 1255.2 186.7 1251.9 187.4 1248.5C188.2 1245.1 188.9 1242.2 189.6 1236.8C190.4 1231.5 191.1 1224.2 191.8 1216.4C192.6 1208.6 193.3 1198.4 194.0 1190.1C194.7 1181.8 195.5 1174.1 196.2 1166.8C196.9 1159.5 197.5 1152.4 198.4 1146.3C199.2 1140.2 200.3 1135.1 201.3 1130.3C202.3 1125.4 203.3 1120.5 204.2 1117.1C205.2 1113.7 206.3 1111.3 207.2 1109.8C208.0 1108.4 208.6 1108.2 209.3 1108.4C210.1 1108.5 210.8 1109.1 211.5 1110.5C212.3 1112.0 213.0 1114.3 213.7 1117.1C214.5 1119.9 215.2 1123.7 215.9 1127.3C216.6 1131.0 217.4 1135.1 218.1 1139.0C218.8 1142.9 219.6 1146.6 220.3 1150.7C221.0 1154.8 221.8 1159.2 222.5 1163.8C223.2 1168.5 223.9 1173.3 224.7 1178.4C225.4 1183.5 226.1 1189.4 226.9 1194.5C227.6 1199.6 228.3 1204.5 229.1 1209.1C229.8 1213.7 230.5 1218.3 231.2 1222.2C232.0 1226.1 232.7 1229.5 233.4 1232.4C234.2 1235.4 234.9 1237.8 235.6 1239.7C236.4 1241.7 237.1 1243.8 237.8 1244.1C238.5 1244.5 238.9 1240.5 240.0 1241.9C241.1 1243.4 242.9 1250.8 244.4 1252.9C245.8 1255.0 247.3 1254.3 248.8 1254.6C250.2 1255.0 251.7 1255.4 253.1 1255.1C254.6 1254.8 256.1 1254.0 257.5 1252.9C259.0 1251.8 260.6 1250.3 261.9 1248.5C263.2 1246.7 264.3 1244.1 265.5 1241.9C266.8 1239.7 267.9 1237.4 269.2 1235.4C270.5 1233.3 272.1 1231.5 273.6 1229.5C275.0 1227.6 276.5 1225.6 278.0 1223.7C279.4 1221.7 280.9 1220.0 282.3 1217.8C283.8 1215.7 285.3 1213.0 286.7 1210.5C288.2 1208.1 289.6 1205.9 291.1 1203.2C292.6 1200.6 294.0 1197.7 295.5 1194.5C296.9 1191.3 298.4 1187.9 299.9 1184.3C301.3 1180.6 302.8 1176.2 304.2 1172.6C305.7 1168.9 307.2 1165.0 308.6 1162.4C310.1 1159.7 311.5 1158.7 313.0 1156.5C314.5 1154.3 315.9 1151.4 317.4 1149.2C318.8 1147.0 320.3 1144.6 321.8 1143.4C323.2 1142.2 324.7 1142.2 326.1 1141.9C327.6 1141.7 329.1 1142.2 330.5 1141.9C332.0 1141.7 333.3 1140.9 334.9 1140.5C336.5 1140.0 338.4 1139.6 340.0 1139.3C341.6 1139.0 342.9 1139.0 344.4 1138.7C345.8 1138.5 347.3 1137.8 348.8 1137.8C350.2 1137.8 351.7 1138.5 353.1 1138.7C354.6 1138.9 356.1 1139.0 357.5 1139.0C359.0 1139.0 360.4 1138.8 361.9 1138.7C363.4 1138.6 364.8 1138.8 366.3 1138.3C367.7 1137.7 369.2 1136.0 370.7 1135.4C372.1 1134.7 373.6 1134.4 375.0 1134.3C376.5 1134.3 378.0 1134.6 379.4 1134.9C380.9 1135.2 382.3 1136.0 383.8 1136.1C385.3 1136.2 386.7 1135.6 388.2 1135.4C389.6 1135.1 391.3 1134.6 392.6 1134.6C393.8 1134.6 394.3 1135.6 395.5 1135.4C396.7 1135.1 398.4 1133.7 399.9 1133.2C401.3 1132.7 403.0 1132.4 404.2 1132.4C405.5 1132.4 406.1 1132.8 407.2 1133.2C408.2 1133.6 409.6 1135.1 410.8 1134.9C412.0 1134.7 413.1 1132.8 414.5 1132.0C415.8 1131.2 417.4 1130.5 418.8 1130.0C420.3 1129.4 421.8 1129.4 423.2 1128.8C424.7 1128.2 426.1 1127.3 427.6 1126.6C429.1 1125.9 430.6 1125.0 432.0 1124.4C433.3 1123.9 434.3 1123.2 435.6 1123.2C437.0 1123.2 438.5 1123.7 440.0 1124.4C441.5 1125.1 442.9 1126.4 444.4 1127.3C445.8 1128.3 447.3 1129.5 448.8 1130.0C450.2 1130.5 451.7 1130.2 453.1 1130.3C454.6 1130.3 456.1 1130.1 457.5 1130.3C459.0 1130.4 460.4 1130.5 461.9 1131.0C463.4 1131.5 464.8 1132.4 466.3 1133.2C467.7 1133.9 469.2 1134.6 470.7 1135.4C472.1 1136.1 473.7 1137.4 475.0 1137.8C476.4 1138.3 477.5 1138.5 478.7 1138.3C479.9 1138.0 481.0 1136.6 482.3 1136.4C483.7 1136.2 485.3 1137.1 486.7 1137.3C488.2 1137.5 489.6 1137.5 491.1 1137.6C492.6 1137.7 494.0 1137.7 495.5 1137.8C496.9 1138.0 498.4 1137.8 499.9 1138.3C501.3 1138.7 502.8 1139.7 504.2 1140.5C505.7 1141.2 507.2 1141.9 508.6 1142.7C510.1 1143.4 511.5 1143.9 513.0 1144.9C514.5 1145.8 515.9 1147.7 517.4 1148.5C518.8 1149.4 520.3 1149.8 521.8 1150.0C523.2 1150.1 524.7 1149.4 526.1 1149.2C527.6 1149.1 529.1 1148.7 530.5 1148.9C532.0 1149.2 533.3 1150.2 534.9 1150.7C536.5 1151.2 538.4 1151.6 540.0 1151.9C541.6 1152.2 542.9 1152.3 544.4 1152.4C545.8 1152.6 547.3 1152.7 548.8 1152.9C550.2 1153.1 551.7 1153.2 553.1 1153.6C554.6 1154.0 555.8 1154.6 557.5 1155.1C559.2 1155.6 561.7 1156.5 563.4 1156.5C565.1 1156.5 566.3 1155.6 567.7 1155.1C569.2 1154.5 570.7 1153.5 572.1 1153.3C573.6 1153.1 575.0 1154.0 576.5 1153.9C578.0 1153.8 579.4 1153.3 580.9 1152.9C582.3 1152.5 583.8 1151.8 585.3 1151.4C586.7 1151.0 588.2 1150.7 589.6 1150.4C591.1 1150.1 592.6 1149.6 594.0 1149.5C595.5 1149.5 596.9 1150.1 598.4 1150.0C599.9 1149.9 601.6 1149.5 602.8 1148.9C604.0 1148.3 604.5 1146.8 605.7 1146.3C606.9 1145.9 608.6 1146.1 610.1 1146.3C611.5 1146.5 613.0 1147.0 614.5 1147.5C615.9 1147.9 617.3 1148.6 618.8 1148.9C620.3 1149.2 622.7 1149.2 623.5 1149.2" fill="none" stroke="#000" stroke-width="3.5"/>
<path d="M44.4 1220.8C45.1 1220.9 47.1 1221.3 48.8 1221.5C50.5 1221.7 52.7 1222.3 54.6 1222.2C56.5 1222.2 58.7 1221.1 60.4 1221.2C62.1 1221.3 63.1 1222.4 64.8 1223.0C66.5 1223.5 68.7 1223.9 70.7 1224.4C72.6 1224.9 74.5 1225.4 76.5 1225.9C78.4 1226.4 80.4 1226.8 82.3 1227.3C84.3 1227.8 86.2 1228.3 88.2 1228.8C90.1 1229.3 92.3 1229.6 94.0 1230.3C95.7 1230.9 96.9 1231.6 98.4 1232.4C99.9 1233.3 101.3 1234.6 102.8 1235.4C104.2 1236.1 105.5 1236.7 107.2 1236.8C108.9 1236.9 111.0 1236.5 113.0 1236.1C114.9 1235.7 116.9 1234.6 118.8 1234.3C120.8 1234.1 123.0 1234.6 124.7 1234.6C126.4 1234.7 127.6 1234.5 129.1 1234.6C130.5 1234.8 131.6 1234.9 133.4 1235.4C135.3 1235.9 137.7 1236.9 140.0 1237.6C142.3 1238.2 144.9 1238.5 147.3 1239.0C149.7 1239.6 152.2 1240.4 154.6 1240.9C157.0 1241.4 160.0 1242.1 161.9 1241.9C163.8 1241.7 164.8 1240.6 166.3 1239.7C167.7 1238.9 169.2 1237.6 170.7 1236.8C172.1 1236.1 173.6 1235.6 175.0 1235.4C176.5 1235.1 178.1 1235.6 179.4 1235.4C180.8 1235.1 182.0 1234.9 183.1 1233.9C184.2 1232.9 185.1 1232.4 186.0 1229.5C186.8 1226.6 187.4 1221.5 188.2 1216.4C188.9 1211.3 189.6 1204.7 190.4 1198.9C191.1 1193.0 191.8 1187.7 192.6 1181.4C193.3 1175.0 194.0 1167.2 194.7 1160.9C195.5 1154.6 196.2 1148.7 196.9 1143.4C197.7 1138.0 198.4 1133.2 199.1 1128.8C199.9 1124.4 200.6 1120.5 201.3 1117.1C202.0 1113.7 202.8 1110.3 203.5 1108.4C204.2 1106.4 205.0 1105.9 205.7 1105.4C206.4 1105.0 207.2 1105.1 207.9 1105.4C208.6 1105.8 209.2 1106.2 210.1 1107.6C210.9 1109.1 212.0 1111.4 213.0 1114.2C214.0 1117.0 214.9 1120.5 215.9 1124.4C216.9 1128.3 217.9 1133.2 218.8 1137.6C219.8 1141.9 220.8 1145.8 221.8 1150.7C222.7 1155.6 223.7 1161.4 224.7 1166.8C225.6 1172.1 226.6 1177.7 227.6 1182.8C228.6 1187.9 229.5 1193.0 230.5 1197.4C231.5 1201.8 232.5 1205.9 233.4 1209.1C234.4 1212.3 235.3 1214.3 236.4 1216.4C237.4 1218.5 238.7 1220.0 240.0 1221.5C241.3 1223.0 242.9 1224.3 244.4 1225.1C245.8 1226.0 247.3 1226.5 248.8 1226.6C250.2 1226.7 251.7 1226.4 253.1 1225.9C254.6 1225.4 256.1 1224.8 257.5 1223.7C259.0 1222.6 260.4 1221.3 261.9 1219.3C263.4 1217.4 264.8 1214.7 266.3 1212.0C267.7 1209.3 269.2 1205.7 270.7 1203.2C272.1 1200.8 273.6 1199.1 275.0 1197.4C276.5 1195.7 278.0 1194.5 279.4 1193.0C280.9 1191.6 282.3 1190.1 283.8 1188.6C285.3 1187.2 286.7 1186.2 288.2 1184.3C289.6 1182.3 291.1 1179.6 292.6 1177.0C294.0 1174.3 295.5 1171.4 296.9 1168.2C298.4 1165.0 299.9 1161.6 301.3 1158.0C302.8 1154.3 304.2 1150.0 305.7 1146.3C307.2 1142.7 308.6 1139.0 310.1 1136.1C311.5 1133.2 313.0 1131.0 314.5 1128.8C315.9 1126.6 317.4 1124.5 318.8 1123.0C320.3 1121.4 321.8 1120.4 323.2 1119.3C324.7 1118.2 326.1 1117.0 327.6 1116.4C329.1 1115.8 330.5 1115.9 332.0 1115.7C333.4 1115.4 335.0 1115.0 336.4 1114.9C337.7 1114.9 338.7 1115.5 340.0 1115.4C341.3 1115.2 342.9 1114.6 344.4 1114.2C345.8 1113.8 347.3 1113.2 348.8 1112.7C350.2 1112.3 351.7 1111.9 353.1 1111.6C354.6 1111.3 356.1 1111.2 357.5 1111.0C359.0 1110.7 360.4 1110.1 361.9 1110.1C363.4 1110.2 364.8 1111.0 366.3 1111.3C367.7 1111.5 369.2 1111.6 370.7 1111.6C372.1 1111.5 373.6 1111.2 375.0 1111.0C376.5 1110.8 378.0 1110.5 379.4 1110.5C380.9 1110.6 382.3 1111.0 383.8 1111.3C385.3 1111.5 386.7 1111.9 388.2 1112.0C389.6 1112.1 391.1 1111.8 392.6 1112.0C394.0 1112.3 395.5 1113.0 396.9 1113.5C398.4 1114.0 399.9 1114.6 401.3 1114.9C402.8 1115.2 404.2 1115.2 405.7 1115.4C407.2 1115.5 408.6 1115.6 410.1 1115.7C411.5 1115.8 413.0 1115.9 414.5 1115.9C415.9 1115.9 417.4 1115.7 418.8 1115.7C420.3 1115.6 421.8 1115.9 423.2 1115.7C424.7 1115.4 426.1 1114.9 427.6 1114.2C429.1 1113.5 430.5 1112.4 432.0 1111.3C433.4 1110.2 435.0 1108.1 436.4 1107.6C437.7 1107.1 438.7 1107.9 440.0 1108.4C441.3 1108.8 442.9 1109.7 444.4 1110.5C445.8 1111.4 447.3 1112.6 448.8 1113.5C450.2 1114.3 451.7 1115.2 453.1 1115.7C454.6 1116.1 456.1 1116.5 457.5 1116.4C459.0 1116.3 460.4 1115.3 461.9 1114.9C463.4 1114.6 464.8 1114.3 466.3 1114.2C467.7 1114.1 469.2 1114.7 470.7 1114.5C472.1 1114.2 473.6 1112.8 475.0 1112.7C476.5 1112.7 478.0 1113.1 479.4 1114.2C480.9 1115.3 482.3 1117.8 483.8 1119.3C485.3 1120.8 486.7 1121.7 488.2 1123.0C489.6 1124.2 491.1 1125.4 492.6 1126.6C494.0 1127.8 495.5 1129.2 496.9 1130.3C498.4 1131.4 499.9 1132.4 501.3 1133.2C502.8 1133.9 504.2 1134.3 505.7 1134.6C507.2 1135.0 508.6 1134.9 510.1 1135.4C511.5 1135.8 513.0 1136.7 514.5 1137.3C515.9 1137.8 517.4 1138.4 518.8 1138.7C520.3 1139.0 521.8 1139.0 523.2 1139.0C524.7 1139.0 526.1 1138.7 527.6 1138.7C529.1 1138.7 530.5 1138.6 532.0 1139.0C533.4 1139.4 535.0 1140.6 536.4 1141.2C537.7 1141.8 538.7 1142.5 540.0 1142.7C541.3 1142.8 542.9 1142.2 544.4 1142.2C545.8 1142.2 547.3 1142.4 548.8 1142.7C550.2 1142.9 551.7 1143.4 553.1 1143.7C554.6 1143.9 555.8 1144.1 557.5 1144.1C559.2 1144.1 561.4 1143.7 563.4 1143.7C565.3 1143.7 567.5 1143.9 569.2 1144.1C570.9 1144.3 572.1 1144.9 573.6 1144.9C575.0 1144.9 576.5 1144.4 578.0 1144.1C579.4 1143.8 580.9 1143.4 582.3 1143.1C583.8 1142.8 585.3 1142.4 586.7 1142.2C588.2 1142.1 589.6 1142.2 591.1 1142.2C592.6 1142.3 594.0 1142.7 595.5 1142.7C596.9 1142.6 598.4 1142.4 599.9 1141.9C601.3 1141.4 602.8 1140.4 604.2 1139.7C605.7 1139.1 607.2 1138.1 608.6 1137.8C610.1 1137.6 611.5 1137.9 613.0 1138.3C614.5 1138.7 615.9 1139.9 617.4 1140.2C618.8 1140.4 620.7 1139.9 621.8 1139.7C622.8 1139.6 623.2 1139.4 623.5 1139.3" fill="none" stroke="#00f" stroke-width="3.8" stroke-dasharray="12.5 3 5.5 3"/>
<path d="M44.4 1220.8C45.1 1221.0 47.1 1221.8 48.8 1222.2C50.5 1222.6 52.7 1223.2 54.6 1223.2C56.5 1223.2 58.5 1222.2 60.4 1222.2C62.4 1222.2 64.3 1222.8 66.3 1223.2C68.2 1223.7 70.2 1225.0 72.1 1225.1C74.1 1225.3 76.3 1224.0 78.0 1224.1C79.7 1224.2 80.6 1225.3 82.3 1225.9C84.0 1226.5 86.2 1227.1 88.2 1227.6C90.1 1228.1 92.3 1228.7 94.0 1228.8C95.7 1228.9 96.9 1227.8 98.4 1228.1C99.9 1228.3 101.6 1229.4 102.8 1230.3C104.0 1231.1 104.5 1232.3 105.7 1233.2C106.9 1234.0 108.4 1235.0 110.1 1235.4C111.8 1235.7 114.0 1235.3 115.9 1235.4C117.9 1235.4 119.8 1235.6 121.8 1235.8C123.7 1236.0 125.6 1236.7 127.6 1236.8C129.5 1237.0 131.4 1236.6 133.4 1236.8C135.5 1237.1 137.9 1238.3 140.0 1238.3C142.1 1238.3 143.9 1237.2 145.8 1236.8C147.8 1236.5 150.0 1236.0 151.7 1236.1C153.4 1236.2 154.6 1236.9 156.1 1237.6C157.5 1238.2 158.9 1239.1 160.4 1239.7C162.0 1240.4 163.8 1241.4 165.5 1241.5C167.3 1241.5 169.1 1240.6 170.7 1240.0C172.2 1239.5 173.6 1239.1 175.0 1238.3C176.5 1237.5 178.0 1236.3 179.4 1235.4C180.9 1234.4 182.6 1234.1 183.8 1232.4C185.0 1230.7 185.7 1228.3 186.7 1225.1C187.7 1222.0 188.7 1218.3 189.6 1213.5C190.6 1208.6 191.6 1202.3 192.6 1195.9C193.5 1189.6 194.5 1182.3 195.5 1175.5C196.4 1168.7 197.4 1160.9 198.4 1155.1C199.4 1149.2 200.3 1144.4 201.3 1140.5C202.3 1136.6 203.3 1133.8 204.2 1131.7C205.2 1129.6 206.2 1128.8 207.2 1128.1C208.1 1127.3 209.1 1127.2 210.1 1127.3C211.0 1127.5 212.0 1127.6 213.0 1128.8C214.0 1130.0 214.9 1131.7 215.9 1134.6C216.9 1137.6 217.9 1141.9 218.8 1146.3C219.8 1150.7 220.8 1156.3 221.8 1160.9C222.7 1165.5 223.7 1169.7 224.7 1174.1C225.6 1178.4 226.6 1183.3 227.6 1187.2C228.6 1191.1 229.5 1194.7 230.5 1197.4C231.5 1200.1 232.5 1201.8 233.4 1203.2C234.4 1204.7 235.3 1206.0 236.4 1206.2C237.4 1206.3 238.4 1204.1 240.0 1204.0C241.6 1203.9 243.9 1205.0 245.8 1205.4C247.8 1205.9 250.0 1206.9 251.7 1206.9C253.4 1206.9 254.6 1206.3 256.1 1205.4C257.5 1204.6 259.0 1203.1 260.4 1201.8C261.9 1200.5 263.4 1199.1 264.8 1197.4C266.3 1195.7 267.7 1193.5 269.2 1191.6C270.7 1189.6 272.1 1187.2 273.6 1185.7C275.0 1184.3 276.5 1183.8 278.0 1182.8C279.4 1181.8 280.9 1181.1 282.3 1179.9C283.8 1178.7 285.3 1177.2 286.7 1175.5C288.2 1173.8 289.6 1171.6 291.1 1169.7C292.6 1167.7 294.0 1166.0 295.5 1163.8C296.9 1161.6 298.4 1158.7 299.9 1156.5C301.3 1154.3 302.8 1152.9 304.2 1150.7C305.7 1148.5 307.2 1145.3 308.6 1143.4C310.1 1141.4 311.5 1140.4 313.0 1139.0C314.5 1137.7 315.9 1136.3 317.4 1135.4C318.8 1134.4 320.3 1133.7 321.8 1133.2C323.2 1132.7 324.7 1132.8 326.1 1132.4C327.6 1132.1 329.1 1131.5 330.5 1131.0C332.0 1130.5 333.3 1129.9 334.9 1129.5C336.5 1129.1 338.2 1128.7 340.0 1128.5C341.8 1128.3 344.1 1128.3 345.8 1128.1C347.5 1127.9 348.8 1127.7 350.2 1127.3C351.7 1126.9 353.1 1126.2 354.6 1125.6C356.1 1125.0 357.5 1124.1 359.0 1123.7C360.4 1123.2 361.9 1123.1 363.4 1123.0C364.8 1122.8 366.3 1122.7 367.7 1122.7C369.2 1122.6 370.7 1122.7 372.1 1122.7C373.6 1122.6 375.0 1122.3 376.5 1122.2C378.0 1122.2 379.4 1122.3 380.9 1122.2C382.3 1122.2 383.8 1122.0 385.3 1121.8C386.7 1121.5 388.2 1121.1 389.6 1120.8C391.1 1120.5 392.6 1120.0 394.0 1120.0C395.5 1120.0 396.9 1120.5 398.4 1120.8C399.9 1121.1 401.3 1121.4 402.8 1121.8C404.2 1122.2 405.7 1122.9 407.2 1123.0C408.6 1123.0 410.1 1122.4 411.5 1122.2C413.0 1122.0 414.5 1121.8 415.9 1121.8C417.4 1121.8 418.8 1122.3 420.3 1122.2C421.8 1122.2 423.2 1121.8 424.7 1121.5C426.1 1121.2 427.6 1120.6 429.1 1120.3C430.5 1120.1 432.0 1120.0 433.4 1120.0C434.9 1120.1 436.7 1120.6 437.8 1120.8C438.9 1120.9 438.7 1120.5 440.0 1120.8C441.3 1121.0 444.1 1121.7 445.8 1122.2C447.5 1122.7 448.8 1123.3 450.2 1123.7C451.7 1124.1 453.1 1124.3 454.6 1124.7C456.1 1125.1 457.5 1125.6 459.0 1125.9C460.4 1126.1 461.9 1126.0 463.4 1126.2C464.8 1126.4 466.3 1126.7 467.7 1127.0C469.2 1127.4 470.7 1127.5 472.1 1128.1C473.6 1128.6 475.0 1129.9 476.5 1130.5C478.0 1131.2 479.4 1131.6 480.9 1132.0C482.3 1132.4 483.8 1132.9 485.3 1133.2C486.7 1133.5 488.2 1133.7 489.6 1133.9C491.1 1134.1 492.6 1134.2 494.0 1134.3C495.5 1134.5 496.9 1134.5 498.4 1134.6C499.9 1134.8 501.3 1135.1 502.8 1135.4C504.2 1135.6 505.7 1135.7 507.2 1136.1C508.6 1136.5 510.1 1137.1 511.5 1137.6C513.0 1138.0 514.5 1138.6 515.9 1139.0C517.4 1139.5 518.8 1140.3 520.3 1140.2C521.8 1140.1 523.2 1138.8 524.7 1138.3C526.1 1137.8 527.6 1137.1 529.1 1137.3C530.5 1137.4 531.6 1138.5 533.4 1139.3C535.3 1140.1 538.2 1141.4 540.0 1141.9C541.8 1142.5 542.9 1142.4 544.4 1142.7C545.8 1142.9 547.3 1143.0 548.8 1143.4C550.2 1143.8 551.7 1145.0 553.1 1145.1C554.6 1145.3 555.8 1144.3 557.5 1144.1C559.2 1144.0 561.4 1144.1 563.4 1144.1C565.3 1144.1 567.5 1144.4 569.2 1144.1C570.9 1143.9 572.1 1142.8 573.6 1142.7C575.0 1142.5 576.3 1143.3 578.0 1143.4C579.7 1143.5 581.8 1143.3 583.8 1143.4C585.7 1143.5 587.9 1143.8 589.6 1144.1C591.3 1144.5 592.6 1145.3 594.0 1145.6C595.5 1145.9 596.9 1146.0 598.4 1146.0C599.9 1146.0 601.3 1145.4 602.8 1145.6C604.2 1145.8 605.7 1146.7 607.2 1147.0C608.6 1147.4 610.1 1147.6 611.5 1147.8C613.0 1147.9 614.5 1148.0 615.9 1148.1C617.4 1148.1 619.0 1148.2 620.3 1148.1C621.6 1148.0 623.0 1147.6 623.5 1147.5" fill="none" stroke="#f00" stroke-width="3.3" stroke-dasharray="12.5 11.5"/>
<path d="M44.4 1217.4C45.1 1217.6 47.3 1218.3 48.8 1218.6C50.2 1218.9 51.7 1219.1 53.1 1219.3C54.6 1219.5 56.1 1219.4 57.5 1220.0C59.0 1220.7 60.2 1222.3 61.9 1223.2C63.6 1224.2 65.8 1225.6 67.7 1225.9C69.7 1226.2 71.9 1225.0 73.6 1225.1C75.3 1225.3 76.5 1226.2 78.0 1226.6C79.4 1227.0 80.9 1227.3 82.3 1227.3C83.8 1227.4 85.3 1226.8 86.7 1227.0C88.2 1227.3 89.6 1228.3 91.1 1228.8C92.6 1229.3 94.0 1229.8 95.5 1230.3C96.9 1230.7 98.2 1231.4 99.9 1231.7C101.6 1232.0 103.7 1231.8 105.7 1232.0C107.6 1232.2 109.8 1232.3 111.5 1232.9C113.2 1233.4 114.2 1234.6 115.9 1235.4C117.6 1236.1 119.8 1237.0 121.8 1237.6C123.7 1238.1 125.6 1238.5 127.6 1238.7C129.5 1239.0 131.4 1239.1 133.4 1239.0C135.5 1238.9 137.7 1238.0 140.0 1238.3C142.3 1238.5 144.9 1239.7 147.3 1240.5C149.7 1241.2 152.2 1241.9 154.6 1242.7C157.0 1243.4 159.5 1244.4 161.9 1244.9C164.3 1245.3 167.4 1245.2 169.2 1245.6C171.0 1245.9 171.8 1246.3 172.8 1247.0C173.9 1247.8 174.8 1248.5 175.8 1250.0C176.7 1251.4 177.6 1254.0 178.7 1255.8C179.8 1257.6 181.2 1260.7 182.3 1260.9C183.4 1261.2 184.4 1259.3 185.3 1257.3C186.1 1255.2 186.7 1251.9 187.4 1248.5C188.2 1245.1 188.9 1241.7 189.6 1236.8C190.4 1232.0 191.1 1226.1 191.8 1219.3C192.6 1212.5 193.3 1203.7 194.0 1195.9C194.7 1188.2 195.5 1179.6 196.2 1172.6C196.9 1165.5 197.7 1159.7 198.4 1153.6C199.1 1147.5 199.9 1141.7 200.6 1136.1C201.3 1130.5 201.9 1124.7 202.8 1120.0C203.6 1115.4 204.8 1111.2 205.7 1108.4C206.5 1105.6 207.2 1104.3 207.9 1103.2C208.6 1102.2 209.3 1102.0 210.1 1102.2C210.8 1102.5 211.5 1103.2 212.3 1104.7C213.0 1106.2 213.7 1108.7 214.5 1111.3C215.2 1113.8 215.9 1116.4 216.6 1120.0C217.4 1123.7 218.0 1128.6 218.8 1133.2C219.7 1137.8 220.8 1142.9 221.8 1147.8C222.7 1152.6 223.7 1157.3 224.7 1162.4C225.6 1167.5 226.6 1173.6 227.6 1178.4C228.6 1183.3 229.5 1188.2 230.5 1191.6C231.5 1195.0 232.5 1197.2 233.4 1198.9C234.4 1200.6 235.3 1200.9 236.4 1201.8C237.4 1202.6 238.7 1202.8 240.0 1204.0C241.3 1205.2 242.9 1207.6 244.4 1209.1C245.8 1210.5 247.3 1211.9 248.8 1212.7C250.2 1213.6 251.7 1214.1 253.1 1214.2C254.6 1214.3 256.1 1214.1 257.5 1213.5C259.0 1212.9 260.4 1211.8 261.9 1210.5C263.4 1209.3 264.8 1207.9 266.3 1206.2C267.7 1204.5 269.2 1202.2 270.7 1200.3C272.1 1198.5 273.6 1196.7 275.0 1195.2C276.5 1193.8 278.0 1192.7 279.4 1191.6C280.9 1190.5 282.3 1189.9 283.8 1188.6C285.3 1187.4 286.7 1186.3 288.2 1184.3C289.6 1182.2 291.1 1178.9 292.6 1176.2C294.0 1173.6 295.5 1171.5 296.9 1168.2C298.4 1164.9 299.9 1160.4 301.3 1156.5C302.8 1152.6 304.2 1148.5 305.7 1144.9C307.2 1141.2 308.6 1137.8 310.1 1134.6C311.5 1131.5 313.0 1128.3 314.5 1125.9C315.9 1123.4 317.4 1121.5 318.8 1120.0C320.3 1118.6 321.8 1118.0 323.2 1117.1C324.7 1116.3 326.1 1115.5 327.6 1114.9C329.1 1114.3 330.5 1114.0 332.0 1113.5C333.4 1113.0 335.0 1112.3 336.4 1112.0C337.7 1111.7 338.7 1111.9 340.0 1111.6C341.3 1111.2 342.9 1110.6 344.4 1109.8C345.8 1109.0 347.3 1107.9 348.8 1106.9C350.2 1105.9 351.7 1104.8 353.1 1104.0C354.6 1103.1 356.1 1102.4 357.5 1101.8C359.0 1101.2 360.4 1100.7 361.9 1100.3C363.4 1099.9 364.8 1099.4 366.3 1099.3C367.7 1099.2 369.2 1099.5 370.7 1099.6C372.1 1099.7 373.6 1100.0 375.0 1100.0C376.5 1100.0 378.0 1099.8 379.4 1099.6C380.9 1099.4 382.3 1099.1 383.8 1098.9C385.3 1098.6 386.7 1098.4 388.2 1098.1C389.6 1097.9 391.1 1097.3 392.6 1097.4C394.0 1097.5 395.5 1098.7 396.9 1098.9C398.4 1099.0 399.9 1098.4 401.3 1098.1C402.8 1097.9 404.2 1097.5 405.7 1097.4C407.2 1097.3 408.6 1097.3 410.1 1097.4C411.5 1097.5 413.0 1097.7 414.5 1097.8C415.9 1098.0 417.4 1097.8 418.8 1098.1C420.3 1098.4 421.8 1099.5 423.2 1099.6C424.7 1099.7 426.1 1099.0 427.6 1098.9C429.1 1098.7 430.5 1098.7 432.0 1098.9C433.4 1099.0 435.0 1099.5 436.4 1099.6C437.7 1099.7 438.4 1099.5 440.0 1099.6C441.6 1099.7 444.1 1100.1 445.8 1100.3C447.5 1100.6 448.8 1100.6 450.2 1101.1C451.7 1101.5 453.1 1102.9 454.6 1103.2C456.1 1103.6 457.5 1103.2 459.0 1103.2C460.4 1103.2 461.9 1103.2 463.4 1103.2C464.8 1103.3 466.3 1103.4 467.7 1103.7C469.2 1103.9 470.7 1104.7 472.1 1104.7C473.6 1104.8 475.0 1104.1 476.5 1104.0C478.0 1103.8 479.4 1103.7 480.9 1103.7C482.3 1103.7 483.8 1103.3 485.3 1104.0C486.7 1104.6 488.2 1106.7 489.6 1107.6C491.1 1108.6 492.6 1109.2 494.0 1109.8C495.5 1110.4 496.9 1110.8 498.4 1111.3C499.9 1111.7 501.3 1112.0 502.8 1112.4C504.2 1112.9 505.7 1113.5 507.2 1113.9C508.6 1114.3 510.1 1114.6 511.5 1114.9C513.0 1115.3 514.5 1115.5 515.9 1115.9C517.4 1116.4 518.8 1117.4 520.3 1117.8C521.8 1118.3 523.2 1118.6 524.7 1118.9C526.1 1119.1 527.6 1119.4 529.1 1119.3C530.5 1119.3 532.0 1118.9 533.4 1118.6C534.9 1118.3 536.7 1117.7 537.8 1117.4C538.9 1117.1 538.9 1116.8 540.0 1116.8C541.1 1116.8 542.9 1117.2 544.4 1117.4C545.8 1117.6 547.3 1117.8 548.8 1117.8C550.2 1117.9 551.7 1118.0 553.1 1117.8C554.6 1117.7 556.1 1117.5 557.5 1117.1C559.0 1116.8 560.4 1115.9 561.9 1115.7C563.4 1115.4 564.8 1115.1 566.3 1115.4C567.7 1115.7 569.2 1117.5 570.7 1117.4C572.1 1117.3 573.6 1115.6 575.0 1114.9C576.5 1114.3 578.0 1113.8 579.4 1113.5C580.9 1113.1 582.3 1112.9 583.8 1112.7C585.3 1112.6 586.7 1112.9 588.2 1112.7C589.6 1112.5 591.1 1112.1 592.6 1111.6C594.0 1111.1 595.5 1110.4 596.9 1109.8C598.4 1109.3 599.9 1108.8 601.3 1108.4C602.8 1107.9 604.2 1107.1 605.7 1107.2C607.2 1107.2 608.6 1108.5 610.1 1108.6C611.5 1108.8 613.0 1108.4 614.5 1108.1C615.9 1107.8 617.3 1107.2 618.8 1106.9C620.3 1106.6 622.7 1106.3 623.5 1106.2" fill="none" stroke="#0f0" stroke-width="3.6" stroke-dasharray="3.5 2.9"/>
</svg>
</body></html>
